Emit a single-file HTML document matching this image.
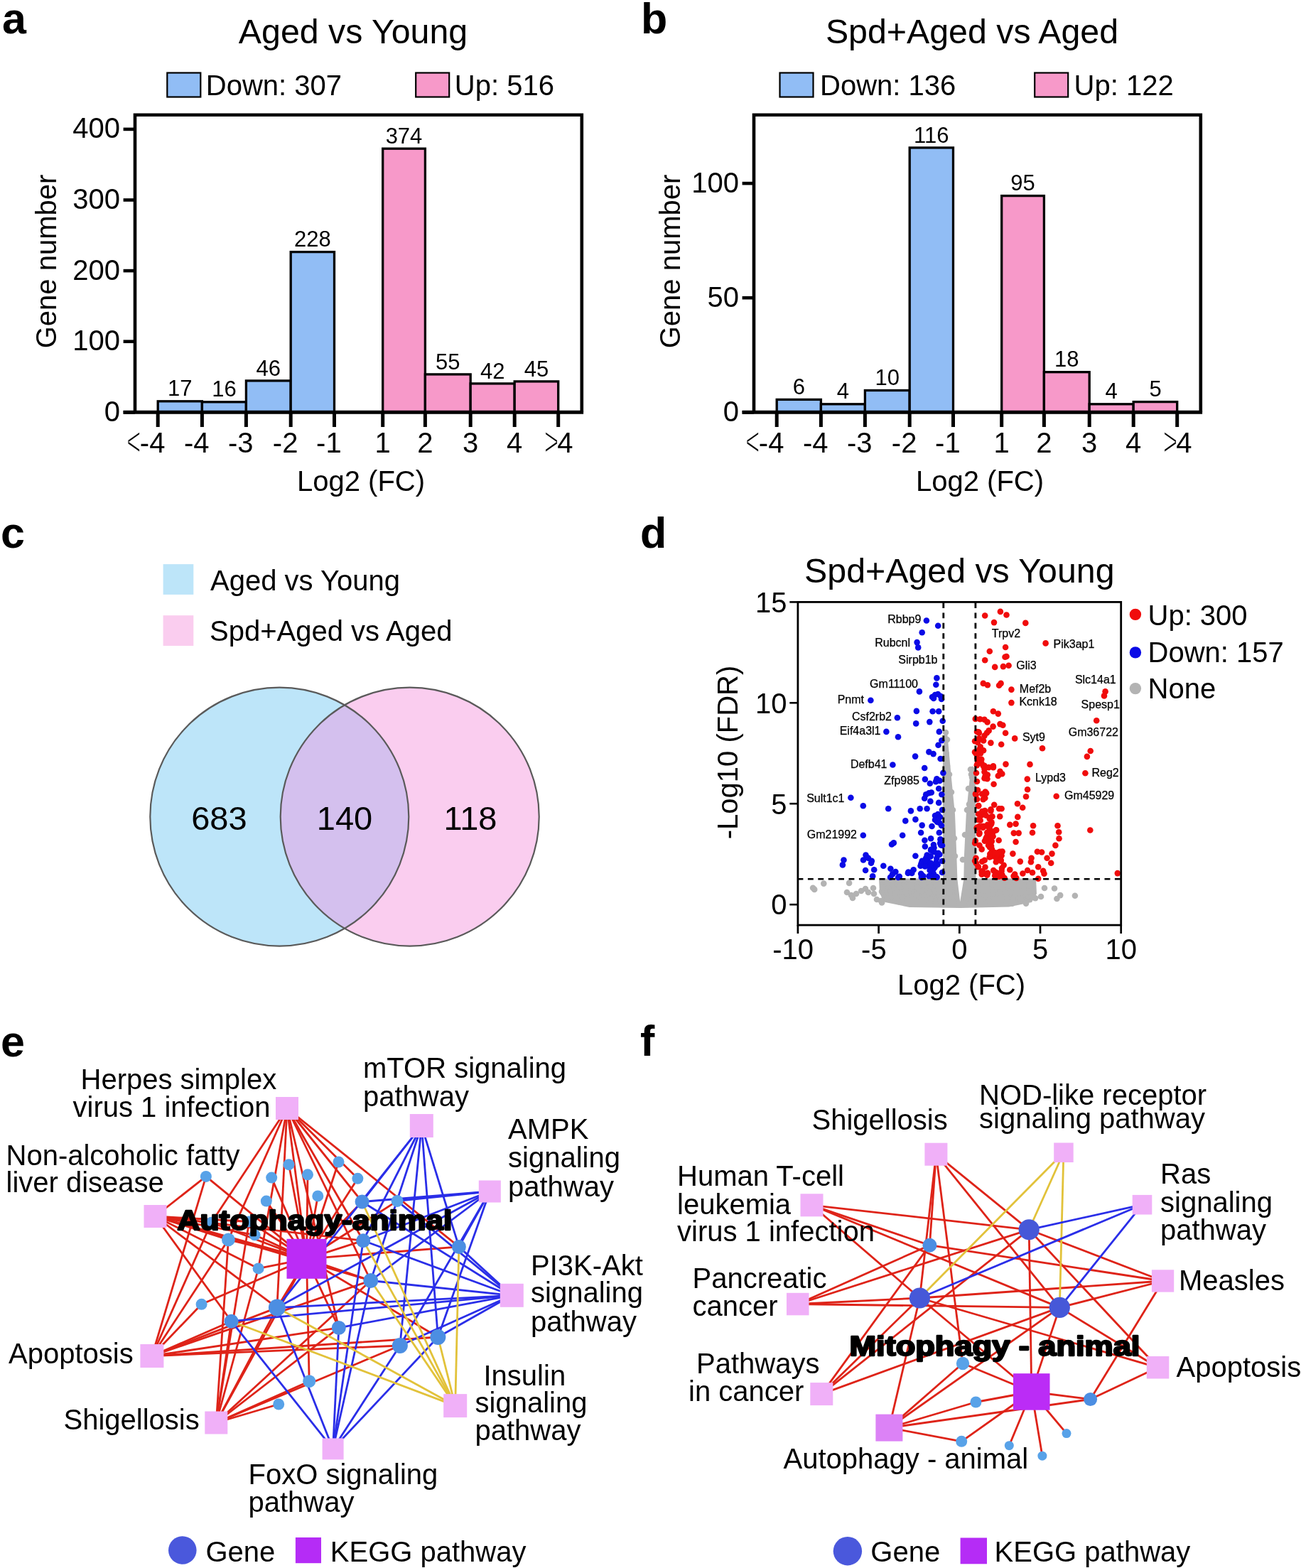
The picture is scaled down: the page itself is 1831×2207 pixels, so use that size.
<!DOCTYPE html>
<html><head><meta charset="utf-8"><title>Figure</title>
<style>
html,body{margin:0;padding:0;background:#fff;}
svg{display:block;}
text{font-family:"Liberation Sans",Arial,sans-serif;fill:#000;}
</style></head>
<body>
<svg width="1831" height="2207" viewBox="0 0 1831 2207">
<rect x="0" y="0" width="1831" height="2207" fill="#fff"/>
<text x="3.0" y="47.0" font-size="61" text-anchor="start" font-weight="bold" >a</text>
<text x="902.0" y="47.0" font-size="61" text-anchor="start" font-weight="bold" >b</text>
<text x="1.0" y="771.0" font-size="61" text-anchor="start" font-weight="bold" >c</text>
<text x="901.0" y="771.0" font-size="61" text-anchor="start" font-weight="bold" >d</text>
<text x="1.0" y="1487.0" font-size="61" text-anchor="start" font-weight="bold" >e</text>
<text x="901.0" y="1486.0" font-size="61" text-anchor="start" font-weight="bold" >f</text>
<text x="497.0" y="60.5" font-size="48.3" text-anchor="middle" >Aged vs Young</text>
<rect x="235.3" y="102.5" width="47.0" height="34.0" fill="#91bdf5" stroke="#000" stroke-width="2.2" />
<text x="289.8" y="133.8" font-size="40" text-anchor="start" >Down: 307</text>
<rect x="585.2" y="102.5" width="47.0" height="34.0" fill="#f799c9" stroke="#000" stroke-width="2.2" />
<text x="639.8" y="133.8" font-size="40" text-anchor="start" >Up: 516</text>
<rect x="222.2" y="564.8" width="62.2" height="15.5" fill="#91bdf5" stroke="#000" stroke-width="3.3"/>
<text x="253.3" y="557.4" font-size="31" text-anchor="middle" >17</text>
<rect x="284.4" y="565.8" width="62.0" height="14.5" fill="#91bdf5" stroke="#000" stroke-width="3.3"/>
<text x="315.4" y="558.4" font-size="31" text-anchor="middle" >16</text>
<rect x="346.4" y="535.9" width="62.8" height="44.4" fill="#91bdf5" stroke="#000" stroke-width="3.3"/>
<text x="377.8" y="528.5" font-size="31" text-anchor="middle" >46</text>
<rect x="409.2" y="354.6" width="61.3" height="225.7" fill="#91bdf5" stroke="#000" stroke-width="3.3"/>
<text x="439.9" y="347.2" font-size="31" text-anchor="middle" >228</text>
<rect x="538.7" y="209.2" width="59.7" height="371.1" fill="#f799c9" stroke="#000" stroke-width="3.3"/>
<text x="568.5" y="201.8" font-size="31" text-anchor="middle" >374</text>
<rect x="598.4" y="526.9" width="63.8" height="53.4" fill="#f799c9" stroke="#000" stroke-width="3.3"/>
<text x="630.3" y="519.5" font-size="31" text-anchor="middle" >55</text>
<rect x="662.2" y="539.9" width="62.0" height="40.4" fill="#f799c9" stroke="#000" stroke-width="3.3"/>
<text x="693.2" y="532.5" font-size="31" text-anchor="middle" >42</text>
<rect x="724.2" y="536.9" width="61.5" height="43.4" fill="#f799c9" stroke="#000" stroke-width="3.3"/>
<text x="755.0" y="529.5" font-size="31" text-anchor="middle" >45</text>
<path d="M190.0,580.3 V161.7 H818.8 V580.3" fill="none" stroke="#000" stroke-width="4.6" stroke-linejoin="miter"/>
<line x1="173.6" y1="580.3" x2="821.1" y2="580.3" stroke="#000" stroke-width="5" />
<line x1="173.6" y1="580.3" x2="190.0" y2="580.3" stroke="#000" stroke-width="4.6" />
<text x="169.0" y="592.7" font-size="40" text-anchor="end" >0</text>
<line x1="173.6" y1="480.7" x2="190.0" y2="480.7" stroke="#000" stroke-width="4.6" />
<text x="169.0" y="493.1" font-size="40" text-anchor="end" >100</text>
<line x1="173.6" y1="381.1" x2="190.0" y2="381.1" stroke="#000" stroke-width="4.6" />
<text x="169.0" y="393.5" font-size="40" text-anchor="end" >200</text>
<line x1="173.6" y1="281.5" x2="190.0" y2="281.5" stroke="#000" stroke-width="4.6" />
<text x="169.0" y="293.9" font-size="40" text-anchor="end" >300</text>
<line x1="173.6" y1="181.9" x2="190.0" y2="181.9" stroke="#000" stroke-width="4.6" />
<text x="169.0" y="194.3" font-size="40" text-anchor="end" >400</text>
<line x1="222.2" y1="580.3" x2="222.2" y2="601.0" stroke="#000" stroke-width="5" />
<text x="232.4" y="637.0" font-size="40" text-anchor="end" >-4</text>
<text x="0.0" y="0.0" font-size="40" text-anchor="start" transform="translate(178.2,641.3) scale(0.86,1.45)" stroke="#fff" stroke-width="1.1">&lt;</text>
<line x1="284.4" y1="580.3" x2="284.4" y2="601.0" stroke="#000" stroke-width="5" />
<text x="294.6" y="637.0" font-size="40" text-anchor="end" >-4</text>
<line x1="346.4" y1="580.3" x2="346.4" y2="601.0" stroke="#000" stroke-width="5" />
<text x="356.6" y="637.0" font-size="40" text-anchor="end" >-3</text>
<line x1="409.2" y1="580.3" x2="409.2" y2="601.0" stroke="#000" stroke-width="5" />
<text x="419.4" y="637.0" font-size="40" text-anchor="end" >-2</text>
<line x1="470.5" y1="580.3" x2="470.5" y2="601.0" stroke="#000" stroke-width="5" />
<text x="480.7" y="637.0" font-size="40" text-anchor="end" >-1</text>
<line x1="538.7" y1="580.3" x2="538.7" y2="601.0" stroke="#000" stroke-width="5" />
<text x="538.7" y="637.0" font-size="40" text-anchor="middle" >1</text>
<line x1="598.4" y1="580.3" x2="598.4" y2="601.0" stroke="#000" stroke-width="5" />
<text x="598.4" y="637.0" font-size="40" text-anchor="middle" >2</text>
<line x1="662.2" y1="580.3" x2="662.2" y2="601.0" stroke="#000" stroke-width="5" />
<text x="662.2" y="637.0" font-size="40" text-anchor="middle" >3</text>
<line x1="724.2" y1="580.3" x2="724.2" y2="601.0" stroke="#000" stroke-width="5" />
<text x="724.2" y="637.0" font-size="40" text-anchor="middle" >4</text>
<line x1="785.7" y1="580.3" x2="785.7" y2="601.0" stroke="#000" stroke-width="5" />
<text x="784.2" y="637.0" font-size="40" text-anchor="start" >4</text>
<text x="0.0" y="0.0" font-size="40" text-anchor="start" transform="translate(766.1,641.3) scale(0.86,1.45)" stroke="#fff" stroke-width="1.1">&gt;</text>
<text x="508.0" y="691.4" font-size="40" text-anchor="middle" >Log2 (FC)</text>
<text x="0.0" y="0.0" font-size="40" text-anchor="middle" transform="translate(78.8,368) rotate(-90)">Gene number</text>
<text x="1368.0" y="60.5" font-size="48.3" text-anchor="middle" >Spd+Aged vs Aged</text>
<rect x="1097.5" y="102.5" width="47.0" height="34.0" fill="#91bdf5" stroke="#000" stroke-width="2.2" />
<text x="1154.0" y="133.8" font-size="40" text-anchor="start" >Down: 136</text>
<rect x="1456.2" y="102.5" width="47.0" height="34.0" fill="#f799c9" stroke="#000" stroke-width="2.2" />
<text x="1511.6" y="133.8" font-size="40" text-anchor="start" >Up: 122</text>
<rect x="1093.2" y="562.4" width="62.2" height="17.9" fill="#91bdf5" stroke="#000" stroke-width="3.3"/>
<text x="1124.3" y="555.0" font-size="31" text-anchor="middle" >6</text>
<rect x="1155.4" y="568.8" width="62.0" height="11.5" fill="#91bdf5" stroke="#000" stroke-width="3.3"/>
<text x="1186.4" y="561.4" font-size="31" text-anchor="middle" >4</text>
<rect x="1217.4" y="549.5" width="62.8" height="30.8" fill="#91bdf5" stroke="#000" stroke-width="3.3"/>
<text x="1248.8" y="542.1" font-size="31" text-anchor="middle" >10</text>
<rect x="1280.2" y="207.9" width="61.3" height="372.4" fill="#91bdf5" stroke="#000" stroke-width="3.3"/>
<text x="1310.8" y="200.5" font-size="31" text-anchor="middle" >116</text>
<rect x="1409.7" y="275.6" width="59.7" height="304.7" fill="#f799c9" stroke="#000" stroke-width="3.3"/>
<text x="1439.6" y="268.2" font-size="31" text-anchor="middle" >95</text>
<rect x="1469.4" y="523.7" width="63.8" height="56.6" fill="#f799c9" stroke="#000" stroke-width="3.3"/>
<text x="1501.3" y="516.3" font-size="31" text-anchor="middle" >18</text>
<rect x="1533.2" y="568.8" width="62.0" height="11.5" fill="#f799c9" stroke="#000" stroke-width="3.3"/>
<text x="1564.2" y="561.4" font-size="31" text-anchor="middle" >4</text>
<rect x="1595.2" y="565.6" width="61.5" height="14.7" fill="#f799c9" stroke="#000" stroke-width="3.3"/>
<text x="1626.0" y="558.2" font-size="31" text-anchor="middle" >5</text>
<path d="M1061.0,580.3 V161.7 H1689.8 V580.3" fill="none" stroke="#000" stroke-width="4.6" stroke-linejoin="miter"/>
<line x1="1044.6" y1="580.3" x2="1692.1" y2="580.3" stroke="#000" stroke-width="5" />
<line x1="1044.6" y1="580.3" x2="1061.0" y2="580.3" stroke="#000" stroke-width="4.6" />
<text x="1040.0" y="592.7" font-size="40" text-anchor="end" >0</text>
<line x1="1044.6" y1="419.2" x2="1061.0" y2="419.2" stroke="#000" stroke-width="4.6" />
<text x="1040.0" y="431.6" font-size="40" text-anchor="end" >50</text>
<line x1="1044.6" y1="258.1" x2="1061.0" y2="258.1" stroke="#000" stroke-width="4.6" />
<text x="1040.0" y="270.5" font-size="40" text-anchor="end" >100</text>
<line x1="1093.2" y1="580.3" x2="1093.2" y2="601.0" stroke="#000" stroke-width="5" />
<text x="1103.4" y="637.0" font-size="40" text-anchor="end" >-4</text>
<text x="0.0" y="0.0" font-size="40" text-anchor="start" transform="translate(1049.2,641.3) scale(0.86,1.45)" stroke="#fff" stroke-width="1.1">&lt;</text>
<line x1="1155.4" y1="580.3" x2="1155.4" y2="601.0" stroke="#000" stroke-width="5" />
<text x="1165.6" y="637.0" font-size="40" text-anchor="end" >-4</text>
<line x1="1217.4" y1="580.3" x2="1217.4" y2="601.0" stroke="#000" stroke-width="5" />
<text x="1227.6" y="637.0" font-size="40" text-anchor="end" >-3</text>
<line x1="1280.2" y1="580.3" x2="1280.2" y2="601.0" stroke="#000" stroke-width="5" />
<text x="1290.4" y="637.0" font-size="40" text-anchor="end" >-2</text>
<line x1="1341.5" y1="580.3" x2="1341.5" y2="601.0" stroke="#000" stroke-width="5" />
<text x="1351.7" y="637.0" font-size="40" text-anchor="end" >-1</text>
<line x1="1409.7" y1="580.3" x2="1409.7" y2="601.0" stroke="#000" stroke-width="5" />
<text x="1409.7" y="637.0" font-size="40" text-anchor="middle" >1</text>
<line x1="1469.4" y1="580.3" x2="1469.4" y2="601.0" stroke="#000" stroke-width="5" />
<text x="1469.4" y="637.0" font-size="40" text-anchor="middle" >2</text>
<line x1="1533.2" y1="580.3" x2="1533.2" y2="601.0" stroke="#000" stroke-width="5" />
<text x="1533.2" y="637.0" font-size="40" text-anchor="middle" >3</text>
<line x1="1595.2" y1="580.3" x2="1595.2" y2="601.0" stroke="#000" stroke-width="5" />
<text x="1595.2" y="637.0" font-size="40" text-anchor="middle" >4</text>
<line x1="1656.7" y1="580.3" x2="1656.7" y2="601.0" stroke="#000" stroke-width="5" />
<text x="1655.2" y="637.0" font-size="40" text-anchor="start" >4</text>
<text x="0.0" y="0.0" font-size="40" text-anchor="start" transform="translate(1637.1,641.3) scale(0.86,1.45)" stroke="#fff" stroke-width="1.1">&gt;</text>
<text x="1379.0" y="691.4" font-size="40" text-anchor="middle" >Log2 (FC)</text>
<text x="0.0" y="0.0" font-size="40" text-anchor="middle" transform="translate(957.3,368) rotate(-90)">Gene number</text>
<rect x="229.6" y="794.1" width="42.7" height="42.8" fill="#bde5f9" />
<rect x="229.6" y="866.2" width="42.7" height="42.8" fill="#facdef" />
<text x="296.0" y="830.9" font-size="40" text-anchor="start" >Aged vs Young</text>
<text x="295.0" y="902.0" font-size="40" text-anchor="start" >Spd+Aged vs Aged</text>
<circle cx="393.3" cy="1149.6" r="182" fill="#bde5f9"/>
<circle cx="576.7" cy="1149.6" r="182" fill="#facdef"/>
<clipPath id="cl"><circle cx="393.3" cy="1149.6" r="182"/></clipPath>
<circle cx="576.7" cy="1149.6" r="182" fill="#d4c0ee" clip-path="url(#cl)"/>
<circle cx="393.3" cy="1149.6" r="182" fill="none" stroke="#5a5a5a" stroke-width="2.2"/>
<circle cx="576.7" cy="1149.6" r="182" fill="none" stroke="#5a5a5a" stroke-width="2.2"/>
<text x="308.4" y="1167.5" font-size="47" text-anchor="middle" >683</text>
<text x="485.0" y="1167.5" font-size="47" text-anchor="middle" >140</text>
<text x="662.0" y="1167.5" font-size="47" text-anchor="middle" >118</text>
<text x="1350.3" y="820.1" font-size="48.3" text-anchor="middle" >Spd+Aged vs Young</text>
<path d="M1237,1236.5 L1327,1236.5 L1327,1062 L1329.5,1028 L1333,1030 L1338.3,1088 L1344,1146 L1346.3,1203 L1347.4,1237.6 L1351.2,1269 L1356.3,1237.6 L1357,1203 L1359.8,1146 L1365.5,1088 L1368,1078 L1373,1082 L1373.5,1236.5 L1458,1236.5 L1459,1258 L1452,1270 L1420,1276.5 L1352,1278 L1280,1277 L1246,1270 L1238,1258 Z" fill="#b3b3b3"/>
<circle cx="1307.9" cy="1244.8" r="4.3" fill="#b3b3b3" />
<circle cx="1380.5" cy="1242.3" r="4.3" fill="#b3b3b3" />
<circle cx="1248.9" cy="1256.2" r="4.3" fill="#b3b3b3" />
<circle cx="1244.3" cy="1253.9" r="4.3" fill="#b3b3b3" />
<circle cx="1251.5" cy="1242.9" r="4.3" fill="#b3b3b3" />
<circle cx="1330.2" cy="1266.5" r="4.3" fill="#b3b3b3" />
<circle cx="1263.5" cy="1247.1" r="4.3" fill="#b3b3b3" />
<circle cx="1375.3" cy="1270.3" r="4.3" fill="#b3b3b3" />
<circle cx="1364.1" cy="1252.7" r="4.3" fill="#b3b3b3" />
<circle cx="1452.7" cy="1241.5" r="4.3" fill="#b3b3b3" />
<circle cx="1426.6" cy="1249.3" r="4.3" fill="#b3b3b3" />
<circle cx="1268.0" cy="1243.8" r="4.3" fill="#b3b3b3" />
<circle cx="1304.5" cy="1266.1" r="4.3" fill="#b3b3b3" />
<circle cx="1276.1" cy="1258.6" r="4.3" fill="#b3b3b3" />
<circle cx="1377.8" cy="1251.9" r="4.3" fill="#b3b3b3" />
<circle cx="1249.2" cy="1246.6" r="4.3" fill="#b3b3b3" />
<circle cx="1387.0" cy="1253.7" r="4.3" fill="#b3b3b3" />
<circle cx="1305.7" cy="1258.7" r="4.3" fill="#b3b3b3" />
<circle cx="1336.6" cy="1249.6" r="4.3" fill="#b3b3b3" />
<circle cx="1412.4" cy="1262.4" r="4.3" fill="#b3b3b3" />
<circle cx="1290.2" cy="1258.4" r="4.3" fill="#b3b3b3" />
<circle cx="1397.9" cy="1249.2" r="4.3" fill="#b3b3b3" />
<circle cx="1453.6" cy="1243.8" r="4.3" fill="#b3b3b3" />
<circle cx="1328.8" cy="1264.2" r="4.3" fill="#b3b3b3" />
<circle cx="1269.7" cy="1255.6" r="4.3" fill="#b3b3b3" />
<circle cx="1244.7" cy="1261.4" r="4.3" fill="#b3b3b3" />
<circle cx="1405.7" cy="1258.3" r="4.3" fill="#b3b3b3" />
<circle cx="1430.4" cy="1250.0" r="4.3" fill="#b3b3b3" />
<circle cx="1390.4" cy="1259.0" r="4.3" fill="#b3b3b3" />
<circle cx="1364.7" cy="1254.6" r="4.3" fill="#b3b3b3" />
<circle cx="1422.5" cy="1270.2" r="4.3" fill="#b3b3b3" />
<circle cx="1341.2" cy="1261.3" r="4.3" fill="#b3b3b3" />
<circle cx="1249.5" cy="1262.4" r="4.3" fill="#b3b3b3" />
<circle cx="1379.7" cy="1271.8" r="4.3" fill="#b3b3b3" />
<circle cx="1418.5" cy="1249.1" r="4.3" fill="#b3b3b3" />
<circle cx="1321.6" cy="1261.4" r="4.3" fill="#b3b3b3" />
<circle cx="1241.0" cy="1254.8" r="4.3" fill="#b3b3b3" />
<circle cx="1273.3" cy="1243.7" r="4.3" fill="#b3b3b3" />
<circle cx="1249.1" cy="1264.6" r="4.3" fill="#b3b3b3" />
<circle cx="1264.7" cy="1247.9" r="4.3" fill="#b3b3b3" />
<circle cx="1322.8" cy="1267.9" r="4.3" fill="#b3b3b3" />
<circle cx="1253.9" cy="1254.4" r="4.3" fill="#b3b3b3" />
<circle cx="1358.0" cy="1268.3" r="4.3" fill="#b3b3b3" />
<circle cx="1417.9" cy="1267.6" r="4.3" fill="#b3b3b3" />
<circle cx="1297.8" cy="1253.3" r="4.3" fill="#b3b3b3" />
<circle cx="1315.6" cy="1268.3" r="4.3" fill="#b3b3b3" />
<circle cx="1448.6" cy="1244.8" r="4.3" fill="#b3b3b3" />
<circle cx="1275.1" cy="1247.4" r="4.3" fill="#b3b3b3" />
<circle cx="1287.8" cy="1255.5" r="4.3" fill="#b3b3b3" />
<circle cx="1366.8" cy="1248.4" r="4.3" fill="#b3b3b3" />
<circle cx="1318.0" cy="1258.1" r="4.3" fill="#b3b3b3" />
<circle cx="1447.6" cy="1262.1" r="4.3" fill="#b3b3b3" />
<circle cx="1386.1" cy="1241.7" r="4.3" fill="#b3b3b3" />
<circle cx="1435.7" cy="1265.0" r="4.3" fill="#b3b3b3" />
<circle cx="1430.1" cy="1265.5" r="4.3" fill="#b3b3b3" />
<circle cx="1323.1" cy="1252.8" r="4.3" fill="#b3b3b3" />
<circle cx="1259.0" cy="1260.3" r="4.3" fill="#b3b3b3" />
<circle cx="1249.8" cy="1242.2" r="4.3" fill="#b3b3b3" />
<circle cx="1282.3" cy="1245.2" r="4.3" fill="#b3b3b3" />
<circle cx="1311.5" cy="1241.7" r="4.3" fill="#b3b3b3" />
<circle cx="1258.5" cy="1251.6" r="4.3" fill="#b3b3b3" />
<circle cx="1241.7" cy="1268.0" r="4.3" fill="#b3b3b3" />
<circle cx="1372.3" cy="1244.8" r="4.3" fill="#b3b3b3" />
<circle cx="1292.0" cy="1251.1" r="4.3" fill="#b3b3b3" />
<circle cx="1316.8" cy="1243.9" r="4.3" fill="#b3b3b3" />
<circle cx="1424.5" cy="1271.8" r="4.3" fill="#b3b3b3" />
<circle cx="1339.4" cy="1255.5" r="4.3" fill="#b3b3b3" />
<circle cx="1255.1" cy="1243.3" r="4.3" fill="#b3b3b3" />
<circle cx="1312.1" cy="1248.5" r="4.3" fill="#b3b3b3" />
<circle cx="1420.0" cy="1245.2" r="4.3" fill="#b3b3b3" />
<circle cx="1241.1" cy="1270.4" r="4.3" fill="#b3b3b3" />
<circle cx="1427.7" cy="1262.3" r="4.3" fill="#b3b3b3" />
<circle cx="1294.0" cy="1251.7" r="4.3" fill="#b3b3b3" />
<circle cx="1273.1" cy="1264.7" r="4.3" fill="#b3b3b3" />
<circle cx="1309.2" cy="1247.1" r="4.3" fill="#b3b3b3" />
<circle cx="1416.2" cy="1271.5" r="4.3" fill="#b3b3b3" />
<circle cx="1425.3" cy="1265.8" r="4.3" fill="#b3b3b3" />
<circle cx="1417.7" cy="1263.7" r="4.3" fill="#b3b3b3" />
<circle cx="1286.3" cy="1256.6" r="4.3" fill="#b3b3b3" />
<circle cx="1314.9" cy="1240.9" r="4.3" fill="#b3b3b3" />
<circle cx="1242.2" cy="1248.9" r="4.3" fill="#b3b3b3" />
<circle cx="1293.5" cy="1262.2" r="4.3" fill="#b3b3b3" />
<circle cx="1448.3" cy="1254.3" r="4.3" fill="#b3b3b3" />
<circle cx="1444.0" cy="1271.6" r="4.3" fill="#b3b3b3" />
<circle cx="1448.0" cy="1251.7" r="4.3" fill="#b3b3b3" />
<circle cx="1284.9" cy="1247.3" r="4.3" fill="#b3b3b3" />
<circle cx="1279.7" cy="1246.5" r="4.3" fill="#b3b3b3" />
<circle cx="1374.5" cy="1268.8" r="4.3" fill="#b3b3b3" />
<circle cx="1422.6" cy="1255.3" r="4.3" fill="#b3b3b3" />
<circle cx="1381.0" cy="1265.6" r="4.3" fill="#b3b3b3" />
<circle cx="1254.8" cy="1261.1" r="4.3" fill="#b3b3b3" />
<circle cx="1438.0" cy="1265.0" r="4.3" fill="#b3b3b3" />
<circle cx="1402.5" cy="1255.3" r="4.3" fill="#b3b3b3" />
<circle cx="1275.6" cy="1265.3" r="4.3" fill="#b3b3b3" />
<circle cx="1309.8" cy="1265.6" r="4.3" fill="#b3b3b3" />
<circle cx="1451.7" cy="1252.7" r="4.3" fill="#b3b3b3" />
<circle cx="1325.1" cy="1270.3" r="4.3" fill="#b3b3b3" />
<circle cx="1396.9" cy="1245.4" r="4.3" fill="#b3b3b3" />
<circle cx="1264.2" cy="1244.8" r="4.3" fill="#b3b3b3" />
<circle cx="1436.9" cy="1265.8" r="4.3" fill="#b3b3b3" />
<circle cx="1268.5" cy="1266.4" r="4.3" fill="#b3b3b3" />
<circle cx="1453.6" cy="1261.0" r="4.3" fill="#b3b3b3" />
<circle cx="1313.8" cy="1257.6" r="4.3" fill="#b3b3b3" />
<circle cx="1265.1" cy="1240.5" r="4.3" fill="#b3b3b3" />
<circle cx="1451.5" cy="1260.8" r="4.3" fill="#b3b3b3" />
<circle cx="1332.3" cy="1267.9" r="4.3" fill="#b3b3b3" />
<circle cx="1419.4" cy="1246.8" r="4.3" fill="#b3b3b3" />
<circle cx="1291.9" cy="1249.4" r="4.3" fill="#b3b3b3" />
<circle cx="1289.4" cy="1258.8" r="4.3" fill="#b3b3b3" />
<circle cx="1293.6" cy="1253.4" r="4.3" fill="#b3b3b3" />
<circle cx="1265.1" cy="1269.1" r="4.3" fill="#b3b3b3" />
<circle cx="1314.5" cy="1254.7" r="4.3" fill="#b3b3b3" />
<circle cx="1365.5" cy="1268.9" r="4.3" fill="#b3b3b3" />
<circle cx="1329.4" cy="1269.4" r="4.3" fill="#b3b3b3" />
<circle cx="1333.7" cy="1245.9" r="4.3" fill="#b3b3b3" />
<circle cx="1274.3" cy="1255.2" r="4.3" fill="#b3b3b3" />
<circle cx="1397.0" cy="1257.8" r="4.3" fill="#b3b3b3" />
<circle cx="1308.4" cy="1256.6" r="4.3" fill="#b3b3b3" />
<circle cx="1359.3" cy="1265.1" r="4.3" fill="#b3b3b3" />
<circle cx="1259.6" cy="1257.9" r="4.3" fill="#b3b3b3" />
<circle cx="1291.2" cy="1248.9" r="4.3" fill="#b3b3b3" />
<circle cx="1407.4" cy="1256.2" r="4.3" fill="#b3b3b3" />
<circle cx="1360.7" cy="1264.3" r="4.3" fill="#b3b3b3" />
<circle cx="1438.6" cy="1254.2" r="4.3" fill="#b3b3b3" />
<circle cx="1372.0" cy="1256.2" r="4.3" fill="#b3b3b3" />
<circle cx="1336.4" cy="1257.1" r="4.3" fill="#b3b3b3" />
<circle cx="1342.1" cy="1270.1" r="4.3" fill="#b3b3b3" />
<circle cx="1391.2" cy="1268.0" r="4.3" fill="#b3b3b3" />
<circle cx="1144.1" cy="1249.8" r="4.3" fill="#b3b3b3" />
<circle cx="1146.2" cy="1251.9" r="4.3" fill="#b3b3b3" />
<circle cx="1159.3" cy="1243.6" r="4.3" fill="#b3b3b3" />
<circle cx="1195.1" cy="1242.9" r="4.3" fill="#b3b3b3" />
<circle cx="1192.0" cy="1256.0" r="4.3" fill="#b3b3b3" />
<circle cx="1198.0" cy="1260.0" r="4.3" fill="#b3b3b3" />
<circle cx="1205.0" cy="1258.0" r="4.3" fill="#b3b3b3" />
<circle cx="1212.0" cy="1254.0" r="4.3" fill="#b3b3b3" />
<circle cx="1218.0" cy="1251.0" r="4.3" fill="#b3b3b3" />
<circle cx="1222.0" cy="1256.0" r="4.3" fill="#b3b3b3" />
<circle cx="1200.0" cy="1264.0" r="4.3" fill="#b3b3b3" />
<circle cx="1229.0" cy="1250.0" r="4.3" fill="#b3b3b3" />
<circle cx="1230.0" cy="1258.0" r="4.3" fill="#b3b3b3" />
<circle cx="1234.0" cy="1266.0" r="4.3" fill="#b3b3b3" />
<circle cx="1240.0" cy="1268.0" r="4.3" fill="#b3b3b3" />
<circle cx="1484.0" cy="1250.5" r="4.3" fill="#b3b3b3" />
<circle cx="1457.1" cy="1264.3" r="4.3" fill="#b3b3b3" />
<circle cx="1492.2" cy="1260.1" r="4.3" fill="#b3b3b3" />
<circle cx="1487.4" cy="1265.0" r="4.3" fill="#b3b3b3" />
<circle cx="1512.9" cy="1260.8" r="4.3" fill="#b3b3b3" />
<circle cx="1465.0" cy="1262.0" r="4.3" fill="#b3b3b3" />
<circle cx="1470.0" cy="1250.0" r="4.3" fill="#b3b3b3" />
<circle cx="1331.0" cy="1031.0" r="4.3" fill="#b3b3b3" />
<circle cx="1333.0" cy="1041.0" r="4.3" fill="#b3b3b3" />
<circle cx="1331.5" cy="1060.0" r="4.3" fill="#b3b3b3" />
<circle cx="1333.0" cy="1078.0" r="4.3" fill="#b3b3b3" />
<circle cx="1366.0" cy="1083.0" r="4.3" fill="#b3b3b3" />
<circle cx="1368.0" cy="1094.0" r="4.3" fill="#b3b3b3" />
<circle cx="1367.0" cy="1110.0" r="4.3" fill="#b3b3b3" />
<circle cx="1364.0" cy="1132.0" r="4.3" fill="#b3b3b3" />
<circle cx="1336.0" cy="1090.0" r="4.3" fill="#b3b3b3" />
<circle cx="1339.0" cy="1115.0" r="4.3" fill="#b3b3b3" />
<circle cx="1341.0" cy="1140.0" r="4.3" fill="#b3b3b3" />
<circle cx="1363.0" cy="1110.0" r="4.3" fill="#b3b3b3" />
<circle cx="1361.0" cy="1140.0" r="4.3" fill="#b3b3b3" />
<circle cx="1343.0" cy="1180.0" r="4.3" fill="#b3b3b3" />
<circle cx="1344.0" cy="1205.0" r="4.3" fill="#b3b3b3" />
<circle cx="1358.0" cy="1175.0" r="4.3" fill="#b3b3b3" />
<circle cx="1355.0" cy="1210.0" r="4.3" fill="#b3b3b3" />
<circle cx="1367.0" cy="1090.0" r="4.3" fill="#b3b3b3" />
<circle cx="1303.9" cy="873.5" r="4.3" fill="#0a0ae6" />
<circle cx="1320.2" cy="880.8" r="4.3" fill="#0a0ae6" />
<circle cx="1297.7" cy="890.3" r="4.3" fill="#0a0ae6" />
<circle cx="1290.6" cy="904.1" r="4.3" fill="#0a0ae6" />
<circle cx="1292.2" cy="911.4" r="4.3" fill="#0a0ae6" />
<circle cx="1318.4" cy="954.4" r="4.3" fill="#0a0ae6" />
<circle cx="1317.3" cy="963.7" r="4.3" fill="#0a0ae6" />
<circle cx="1293.9" cy="973.4" r="4.3" fill="#0a0ae6" />
<circle cx="1312.0" cy="981.0" r="4.3" fill="#0a0ae6" />
<circle cx="1316.0" cy="978.0" r="4.3" fill="#0a0ae6" />
<circle cx="1320.0" cy="977.0" r="4.3" fill="#0a0ae6" />
<circle cx="1324.0" cy="980.0" r="4.3" fill="#0a0ae6" />
<circle cx="1325.0" cy="984.0" r="4.3" fill="#0a0ae6" />
<circle cx="1314.0" cy="983.0" r="4.3" fill="#0a0ae6" />
<circle cx="1225.4" cy="985.8" r="4.3" fill="#0a0ae6" />
<circle cx="1289.9" cy="1000.9" r="4.3" fill="#0a0ae6" />
<circle cx="1312.6" cy="1001.2" r="4.3" fill="#0a0ae6" />
<circle cx="1321.2" cy="1001.2" r="4.3" fill="#0a0ae6" />
<circle cx="1262.9" cy="1010.2" r="4.3" fill="#0a0ae6" />
<circle cx="1289.2" cy="1018.4" r="4.3" fill="#0a0ae6" />
<circle cx="1308.3" cy="1016.1" r="4.3" fill="#0a0ae6" />
<circle cx="1326.7" cy="1014.7" r="4.3" fill="#0a0ae6" />
<circle cx="1247.4" cy="1029.9" r="4.3" fill="#0a0ae6" />
<circle cx="1264.0" cy="1037.3" r="4.3" fill="#0a0ae6" />
<circle cx="1321.8" cy="1029.9" r="4.3" fill="#0a0ae6" />
<circle cx="1325.3" cy="1042.3" r="4.3" fill="#0a0ae6" />
<circle cx="1320.5" cy="1048.7" r="4.3" fill="#0a0ae6" />
<circle cx="1307.4" cy="1058.4" r="4.3" fill="#0a0ae6" />
<circle cx="1313.6" cy="1061.1" r="4.3" fill="#0a0ae6" />
<circle cx="1288.1" cy="1064.6" r="4.3" fill="#0a0ae6" />
<circle cx="1323.6" cy="1068.0" r="4.3" fill="#0a0ae6" />
<circle cx="1256.4" cy="1076.5" r="4.3" fill="#0a0ae6" />
<circle cx="1301.2" cy="1081.0" r="4.3" fill="#0a0ae6" />
<circle cx="1327.4" cy="1087.9" r="4.3" fill="#0a0ae6" />
<circle cx="1301.9" cy="1096.9" r="4.3" fill="#0a0ae6" />
<circle cx="1308.8" cy="1102.8" r="4.3" fill="#0a0ae6" />
<circle cx="1318.4" cy="1096.2" r="4.3" fill="#0a0ae6" />
<circle cx="1322.5" cy="1098.9" r="4.3" fill="#0a0ae6" />
<circle cx="1317.0" cy="1100.3" r="4.3" fill="#0a0ae6" />
<circle cx="1321.2" cy="1110.0" r="4.3" fill="#0a0ae6" />
<circle cx="1307.4" cy="1116.2" r="4.3" fill="#0a0ae6" />
<circle cx="1310.8" cy="1115.5" r="4.3" fill="#0a0ae6" />
<circle cx="1303.2" cy="1118.2" r="4.3" fill="#0a0ae6" />
<circle cx="1325.3" cy="1118.2" r="4.3" fill="#0a0ae6" />
<circle cx="1301.2" cy="1123.7" r="4.3" fill="#0a0ae6" />
<circle cx="1309.4" cy="1127.9" r="4.3" fill="#0a0ae6" />
<circle cx="1321.2" cy="1129.9" r="4.3" fill="#0a0ae6" />
<circle cx="1197.4" cy="1122.8" r="4.3" fill="#0a0ae6" />
<circle cx="1214.8" cy="1134.3" r="4.3" fill="#0a0ae6" />
<circle cx="1250.2" cy="1138.2" r="4.3" fill="#0a0ae6" />
<circle cx="1281.9" cy="1141.4" r="4.3" fill="#0a0ae6" />
<circle cx="1294.7" cy="1138.2" r="4.3" fill="#0a0ae6" />
<circle cx="1304.6" cy="1138.2" r="4.3" fill="#0a0ae6" />
<circle cx="1316.0" cy="1148.0" r="4.3" fill="#0a0ae6" />
<circle cx="1320.0" cy="1146.0" r="4.3" fill="#0a0ae6" />
<circle cx="1323.0" cy="1150.0" r="4.3" fill="#0a0ae6" />
<circle cx="1316.0" cy="1154.0" r="4.3" fill="#0a0ae6" />
<circle cx="1319.0" cy="1157.0" r="4.3" fill="#0a0ae6" />
<circle cx="1322.0" cy="1158.0" r="4.3" fill="#0a0ae6" />
<circle cx="1274.3" cy="1155.4" r="4.3" fill="#0a0ae6" />
<circle cx="1288.4" cy="1153.4" r="4.3" fill="#0a0ae6" />
<circle cx="1297.7" cy="1161.6" r="4.3" fill="#0a0ae6" />
<circle cx="1311.5" cy="1163.0" r="4.3" fill="#0a0ae6" />
<circle cx="1296.1" cy="1172.0" r="4.3" fill="#0a0ae6" />
<circle cx="1321.8" cy="1172.0" r="4.3" fill="#0a0ae6" />
<circle cx="1214.8" cy="1175.8" r="4.3" fill="#0a0ae6" />
<circle cx="1270.2" cy="1175.8" r="4.3" fill="#0a0ae6" />
<circle cx="1255.0" cy="1188.5" r="4.3" fill="#0a0ae6" />
<circle cx="1257.8" cy="1186.4" r="4.3" fill="#0a0ae6" />
<circle cx="1310.1" cy="1180.2" r="4.3" fill="#0a0ae6" />
<circle cx="1301.9" cy="1191.5" r="4.3" fill="#0a0ae6" />
<circle cx="1288.4" cy="1204.7" r="4.3" fill="#0a0ae6" />
<circle cx="1310.1" cy="1196.8" r="4.3" fill="#0a0ae6" />
<circle cx="1306.0" cy="1205.0" r="4.3" fill="#0a0ae6" />
<circle cx="1303.2" cy="1207.8" r="4.3" fill="#0a0ae6" />
<circle cx="1187.5" cy="1210.5" r="4.3" fill="#0a0ae6" />
<circle cx="1185.9" cy="1217.4" r="4.3" fill="#0a0ae6" />
<circle cx="1218.5" cy="1203.6" r="4.3" fill="#0a0ae6" />
<circle cx="1215.0" cy="1210.5" r="4.3" fill="#0a0ae6" />
<circle cx="1222.0" cy="1207.8" r="4.3" fill="#0a0ae6" />
<circle cx="1226.8" cy="1211.9" r="4.3" fill="#0a0ae6" />
<circle cx="1226.0" cy="1214.7" r="4.3" fill="#0a0ae6" />
<circle cx="1218.1" cy="1225.0" r="4.3" fill="#0a0ae6" />
<circle cx="1230.2" cy="1224.3" r="4.3" fill="#0a0ae6" />
<circle cx="1243.3" cy="1218.8" r="4.3" fill="#0a0ae6" />
<circle cx="1228.2" cy="1233.3" r="4.3" fill="#0a0ae6" />
<circle cx="1253.4" cy="1222.7" r="4.3" fill="#0a0ae6" />
<circle cx="1326.0" cy="1140.0" r="4.3" fill="#0a0ae6" />
<circle cx="1325.0" cy="1162.0" r="4.3" fill="#0a0ae6" />
<circle cx="1326.0" cy="1190.0" r="4.3" fill="#0a0ae6" />
<circle cx="1326.0" cy="1212.0" r="4.3" fill="#0a0ae6" />
<circle cx="1326.0" cy="1228.0" r="4.3" fill="#0a0ae6" />
<circle cx="1324.3" cy="1189.5" r="4.3" fill="#0a0ae6" />
<circle cx="1319.7" cy="1203.8" r="4.3" fill="#0a0ae6" />
<circle cx="1323.1" cy="1186.9" r="4.3" fill="#0a0ae6" />
<circle cx="1314.5" cy="1193.3" r="4.3" fill="#0a0ae6" />
<circle cx="1313.9" cy="1189.1" r="4.3" fill="#0a0ae6" />
<circle cx="1313.9" cy="1198.1" r="4.3" fill="#0a0ae6" />
<circle cx="1322.4" cy="1202.8" r="4.3" fill="#0a0ae6" />
<circle cx="1314.9" cy="1199.0" r="4.3" fill="#0a0ae6" />
<circle cx="1260.4" cy="1227.1" r="4.3" fill="#0a0ae6" />
<circle cx="1264.1" cy="1235.0" r="4.3" fill="#0a0ae6" />
<circle cx="1253.1" cy="1234.8" r="4.3" fill="#0a0ae6" />
<circle cx="1256.1" cy="1230.4" r="4.3" fill="#0a0ae6" />
<circle cx="1265.8" cy="1233.7" r="4.3" fill="#0a0ae6" />
<circle cx="1277.9" cy="1228.9" r="4.3" fill="#0a0ae6" />
<circle cx="1282.8" cy="1227.8" r="4.3" fill="#0a0ae6" />
<circle cx="1278.4" cy="1227.6" r="4.3" fill="#0a0ae6" />
<circle cx="1285.7" cy="1224.2" r="4.3" fill="#0a0ae6" />
<circle cx="1283.3" cy="1229.0" r="4.3" fill="#0a0ae6" />
<circle cx="1295.5" cy="1218.7" r="4.3" fill="#0a0ae6" />
<circle cx="1313.7" cy="1223.2" r="4.3" fill="#0a0ae6" />
<circle cx="1296.9" cy="1234.9" r="4.3" fill="#0a0ae6" />
<circle cx="1318.7" cy="1234.6" r="4.3" fill="#0a0ae6" />
<circle cx="1298.1" cy="1217.1" r="4.3" fill="#0a0ae6" />
<circle cx="1296.2" cy="1229.8" r="4.3" fill="#0a0ae6" />
<circle cx="1303.1" cy="1213.7" r="4.3" fill="#0a0ae6" />
<circle cx="1307.7" cy="1233.1" r="4.3" fill="#0a0ae6" />
<circle cx="1319.6" cy="1216.9" r="4.3" fill="#0a0ae6" />
<circle cx="1299.5" cy="1233.3" r="4.3" fill="#0a0ae6" />
<circle cx="1312.1" cy="1227.9" r="4.3" fill="#0a0ae6" />
<circle cx="1297.7" cy="1211.9" r="4.3" fill="#0a0ae6" />
<circle cx="1315.6" cy="1221.0" r="4.3" fill="#0a0ae6" />
<circle cx="1297.2" cy="1233.8" r="4.3" fill="#0a0ae6" />
<circle cx="1314.0" cy="1230.4" r="4.3" fill="#0a0ae6" />
<circle cx="1297.5" cy="1231.7" r="4.3" fill="#0a0ae6" />
<circle cx="1297.0" cy="1231.9" r="4.3" fill="#0a0ae6" />
<circle cx="1308.6" cy="1218.9" r="4.3" fill="#0a0ae6" />
<circle cx="1311.6" cy="1233.5" r="4.3" fill="#0a0ae6" />
<circle cx="1303.0" cy="1213.7" r="4.3" fill="#0a0ae6" />
<circle cx="1310.8" cy="1216.4" r="4.3" fill="#0a0ae6" />
<circle cx="1298.3" cy="1214.5" r="4.3" fill="#0a0ae6" />
<circle cx="1296.5" cy="1215.5" r="4.3" fill="#0a0ae6" />
<circle cx="1304.4" cy="1218.1" r="4.3" fill="#0a0ae6" />
<circle cx="1317.8" cy="1217.7" r="4.3" fill="#0a0ae6" />
<circle cx="1310.0" cy="1214.9" r="4.3" fill="#0a0ae6" />
<circle cx="1305.4" cy="1211.0" r="4.3" fill="#0a0ae6" />
<circle cx="1302.5" cy="1210.9" r="4.3" fill="#0a0ae6" />
<circle cx="1318.3" cy="1208.1" r="4.3" fill="#0a0ae6" />
<circle cx="1304.7" cy="1203.5" r="4.3" fill="#0a0ae6" />
<circle cx="1323.4" cy="1181.4" r="4.3" fill="#0a0ae6" />
<circle cx="1320.5" cy="1200.9" r="4.3" fill="#0a0ae6" />
<circle cx="1312.4" cy="1225.1" r="4.3" fill="#0a0ae6" />
<circle cx="1309.8" cy="1205.4" r="4.3" fill="#0a0ae6" />
<circle cx="1317.2" cy="1233.9" r="4.3" fill="#0a0ae6" />
<circle cx="1308.6" cy="1224.9" r="4.3" fill="#0a0ae6" />
<circle cx="1317.7" cy="1213.2" r="4.3" fill="#0a0ae6" />
<circle cx="1310.1" cy="1195.9" r="4.3" fill="#0a0ae6" />
<circle cx="1301.4" cy="1182.8" r="4.3" fill="#0a0ae6" />
<circle cx="1301.8" cy="1219.5" r="4.3" fill="#0a0ae6" />
<circle cx="1386.2" cy="866.5" r="4.3" fill="#f00c0c" />
<circle cx="1407.9" cy="860.9" r="4.3" fill="#f00c0c" />
<circle cx="1416.5" cy="865.5" r="4.3" fill="#f00c0c" />
<circle cx="1399.0" cy="876.1" r="4.3" fill="#f00c0c" />
<circle cx="1443.3" cy="876.9" r="4.3" fill="#f00c0c" />
<circle cx="1471.6" cy="905.4" r="4.3" fill="#f00c0c" />
<circle cx="1415.1" cy="911.0" r="4.3" fill="#f00c0c" />
<circle cx="1392.8" cy="916.7" r="4.3" fill="#f00c0c" />
<circle cx="1416.5" cy="924.0" r="4.3" fill="#f00c0c" />
<circle cx="1414.5" cy="924.7" r="4.3" fill="#f00c0c" />
<circle cx="1386.2" cy="929.3" r="4.3" fill="#f00c0c" />
<circle cx="1400.2" cy="938.9" r="4.3" fill="#f00c0c" />
<circle cx="1411.9" cy="938.1" r="4.3" fill="#f00c0c" />
<circle cx="1419.6" cy="936.7" r="4.3" fill="#f00c0c" />
<circle cx="1383.8" cy="961.9" r="4.3" fill="#f00c0c" />
<circle cx="1389.9" cy="964.3" r="4.3" fill="#f00c0c" />
<circle cx="1408.6" cy="961.9" r="4.3" fill="#f00c0c" />
<circle cx="1406.1" cy="964.7" r="4.3" fill="#f00c0c" />
<circle cx="1423.4" cy="970.6" r="4.3" fill="#f00c0c" />
<circle cx="1423.4" cy="989.1" r="4.3" fill="#f00c0c" />
<circle cx="1555.6" cy="973.4" r="4.3" fill="#f00c0c" />
<circle cx="1554.0" cy="979.4" r="4.3" fill="#f00c0c" />
<circle cx="1397.9" cy="1001.2" r="4.3" fill="#f00c0c" />
<circle cx="1404.8" cy="1004.6" r="4.3" fill="#f00c0c" />
<circle cx="1379.3" cy="1012.2" r="4.3" fill="#f00c0c" />
<circle cx="1385.5" cy="1012.9" r="4.3" fill="#f00c0c" />
<circle cx="1389.6" cy="1016.4" r="4.3" fill="#f00c0c" />
<circle cx="1543.2" cy="1014.3" r="4.3" fill="#f00c0c" />
<circle cx="1397.6" cy="1022.6" r="4.3" fill="#f00c0c" />
<circle cx="1407.5" cy="1019.1" r="4.3" fill="#f00c0c" />
<circle cx="1411.4" cy="1020.8" r="4.3" fill="#f00c0c" />
<circle cx="1377.9" cy="1031.5" r="4.3" fill="#f00c0c" />
<circle cx="1388.9" cy="1031.5" r="4.3" fill="#f00c0c" />
<circle cx="1385.5" cy="1035.6" r="4.3" fill="#f00c0c" />
<circle cx="1415.1" cy="1031.8" r="4.3" fill="#f00c0c" />
<circle cx="1428.2" cy="1039.4" r="4.3" fill="#f00c0c" />
<circle cx="1384.1" cy="1042.5" r="4.3" fill="#f00c0c" />
<circle cx="1394.4" cy="1045.6" r="4.3" fill="#f00c0c" />
<circle cx="1409.2" cy="1047.8" r="4.3" fill="#f00c0c" />
<circle cx="1467.0" cy="1053.3" r="4.3" fill="#f00c0c" />
<circle cx="1534.7" cy="1057.0" r="4.3" fill="#f00c0c" />
<circle cx="1529.9" cy="1064.9" r="4.3" fill="#f00c0c" />
<circle cx="1384.1" cy="1056.3" r="4.3" fill="#f00c0c" />
<circle cx="1380.0" cy="1060.5" r="4.3" fill="#f00c0c" />
<circle cx="1381.3" cy="1068.7" r="4.3" fill="#f00c0c" />
<circle cx="1376.0" cy="1074.0" r="4.3" fill="#f00c0c" />
<circle cx="1415.5" cy="1075.6" r="4.3" fill="#f00c0c" />
<circle cx="1449.5" cy="1075.9" r="4.3" fill="#f00c0c" />
<circle cx="1385.5" cy="1077.7" r="4.3" fill="#f00c0c" />
<circle cx="1397.9" cy="1078.4" r="4.3" fill="#f00c0c" />
<circle cx="1397.9" cy="1080.3" r="4.3" fill="#f00c0c" />
<circle cx="1385.5" cy="1082.0" r="4.3" fill="#f00c0c" />
<circle cx="1385.5" cy="1086.5" r="4.3" fill="#f00c0c" />
<circle cx="1407.5" cy="1085.8" r="4.3" fill="#f00c0c" />
<circle cx="1410.3" cy="1089.3" r="4.3" fill="#f00c0c" />
<circle cx="1404.8" cy="1092.0" r="4.3" fill="#f00c0c" />
<circle cx="1385.5" cy="1095.5" r="4.3" fill="#f00c0c" />
<circle cx="1445.8" cy="1096.6" r="4.3" fill="#f00c0c" />
<circle cx="1527.4" cy="1088.2" r="4.3" fill="#f00c0c" />
<circle cx="1398.6" cy="1103.8" r="4.3" fill="#f00c0c" />
<circle cx="1446.1" cy="1111.3" r="4.3" fill="#f00c0c" />
<circle cx="1444.0" cy="1121.3" r="4.3" fill="#f00c0c" />
<circle cx="1486.7" cy="1120.7" r="4.3" fill="#f00c0c" />
<circle cx="1399.2" cy="1132.7" r="4.3" fill="#f00c0c" />
<circle cx="1406.1" cy="1138.2" r="4.3" fill="#f00c0c" />
<circle cx="1409.6" cy="1138.2" r="4.3" fill="#f00c0c" />
<circle cx="1432.0" cy="1131.3" r="4.3" fill="#f00c0c" />
<circle cx="1439.2" cy="1136.8" r="4.3" fill="#f00c0c" />
<circle cx="1396.5" cy="1149.2" r="4.3" fill="#f00c0c" />
<circle cx="1407.2" cy="1149.2" r="4.3" fill="#f00c0c" />
<circle cx="1432.3" cy="1149.9" r="4.3" fill="#f00c0c" />
<circle cx="1421.3" cy="1160.9" r="4.3" fill="#f00c0c" />
<circle cx="1429.6" cy="1159.6" r="4.3" fill="#f00c0c" />
<circle cx="1454.1" cy="1162.3" r="4.3" fill="#f00c0c" />
<circle cx="1453.0" cy="1172.0" r="4.3" fill="#f00c0c" />
<circle cx="1488.5" cy="1162.3" r="4.3" fill="#f00c0c" />
<circle cx="1490.2" cy="1171.3" r="4.3" fill="#f00c0c" />
<circle cx="1490.5" cy="1180.2" r="4.3" fill="#f00c0c" />
<circle cx="1534.3" cy="1168.5" r="4.3" fill="#f00c0c" />
<circle cx="1397.9" cy="1170.6" r="4.3" fill="#f00c0c" />
<circle cx="1426.8" cy="1172.6" r="4.3" fill="#f00c0c" />
<circle cx="1433.7" cy="1172.6" r="4.3" fill="#f00c0c" />
<circle cx="1429.6" cy="1185.0" r="4.3" fill="#f00c0c" />
<circle cx="1485.4" cy="1189.9" r="4.3" fill="#f00c0c" />
<circle cx="1425.4" cy="1201.6" r="4.3" fill="#f00c0c" />
<circle cx="1459.9" cy="1198.8" r="4.3" fill="#f00c0c" />
<circle cx="1466.1" cy="1199.5" r="4.3" fill="#f00c0c" />
<circle cx="1480.5" cy="1201.6" r="4.3" fill="#f00c0c" />
<circle cx="1473.6" cy="1207.8" r="4.3" fill="#f00c0c" />
<circle cx="1479.2" cy="1214.7" r="4.3" fill="#f00c0c" />
<circle cx="1451.6" cy="1207.8" r="4.3" fill="#f00c0c" />
<circle cx="1450.9" cy="1213.3" r="4.3" fill="#f00c0c" />
<circle cx="1435.8" cy="1212.6" r="4.3" fill="#f00c0c" />
<circle cx="1409.6" cy="1204.3" r="4.3" fill="#f00c0c" />
<circle cx="1446.1" cy="1225.0" r="4.3" fill="#f00c0c" />
<circle cx="1453.0" cy="1228.2" r="4.3" fill="#f00c0c" />
<circle cx="1461.2" cy="1220.2" r="4.3" fill="#f00c0c" />
<circle cx="1468.1" cy="1225.7" r="4.3" fill="#f00c0c" />
<circle cx="1469.5" cy="1229.8" r="4.3" fill="#f00c0c" />
<circle cx="1461.2" cy="1236.7" r="4.3" fill="#f00c0c" />
<circle cx="1421.3" cy="1224.3" r="4.3" fill="#f00c0c" />
<circle cx="1428.2" cy="1230.5" r="4.3" fill="#f00c0c" />
<circle cx="1572.8" cy="1229.1" r="4.3" fill="#f00c0c" />
<circle cx="1375.0" cy="1030.0" r="4.3" fill="#f00c0c" />
<circle cx="1376.0" cy="1045.0" r="4.3" fill="#f00c0c" />
<circle cx="1374.0" cy="1088.0" r="4.3" fill="#f00c0c" />
<circle cx="1375.0" cy="1100.0" r="4.3" fill="#f00c0c" />
<circle cx="1376.0" cy="1112.0" r="4.3" fill="#f00c0c" />
<circle cx="1375.0" cy="1125.0" r="4.3" fill="#f00c0c" />
<circle cx="1377.1" cy="1030.2" r="4.3" fill="#f00c0c" />
<circle cx="1373.7" cy="1118.4" r="4.3" fill="#f00c0c" />
<circle cx="1389.4" cy="1096.2" r="4.3" fill="#f00c0c" />
<circle cx="1377.6" cy="1040.5" r="4.3" fill="#f00c0c" />
<circle cx="1377.9" cy="1068.7" r="4.3" fill="#f00c0c" />
<circle cx="1375.2" cy="1067.0" r="4.3" fill="#f00c0c" />
<circle cx="1377.3" cy="1134.0" r="4.3" fill="#f00c0c" />
<circle cx="1391.5" cy="1080.1" r="4.3" fill="#f00c0c" />
<circle cx="1376.9" cy="1134.5" r="4.3" fill="#f00c0c" />
<circle cx="1378.2" cy="1055.4" r="4.3" fill="#f00c0c" />
<circle cx="1372.0" cy="1058.6" r="4.3" fill="#f00c0c" />
<circle cx="1381.5" cy="1074.4" r="4.3" fill="#f00c0c" />
<circle cx="1376.0" cy="1074.6" r="4.3" fill="#f00c0c" />
<circle cx="1372.1" cy="1043.3" r="4.3" fill="#f00c0c" />
<circle cx="1373.8" cy="1060.9" r="4.3" fill="#f00c0c" />
<circle cx="1372.8" cy="1011.9" r="4.3" fill="#f00c0c" />
<circle cx="1378.1" cy="1039.3" r="4.3" fill="#f00c0c" />
<circle cx="1383.7" cy="1077.8" r="4.3" fill="#f00c0c" />
<circle cx="1387.0" cy="1094.5" r="4.3" fill="#f00c0c" />
<circle cx="1386.3" cy="1123.3" r="4.3" fill="#f00c0c" />
<circle cx="1379.8" cy="1051.4" r="4.3" fill="#f00c0c" />
<circle cx="1391.7" cy="1028.4" r="4.3" fill="#f00c0c" />
<circle cx="1386.5" cy="1092.6" r="4.3" fill="#f00c0c" />
<circle cx="1372.9" cy="1117.6" r="4.3" fill="#f00c0c" />
<circle cx="1389.8" cy="1090.6" r="4.3" fill="#f00c0c" />
<circle cx="1386.7" cy="1114.6" r="4.3" fill="#f00c0c" />
<circle cx="1374.8" cy="1077.1" r="4.3" fill="#f00c0c" />
<circle cx="1382.1" cy="1117.5" r="4.3" fill="#f00c0c" />
<circle cx="1388.1" cy="1116.4" r="4.3" fill="#f00c0c" />
<circle cx="1383.7" cy="1125.1" r="4.3" fill="#f00c0c" />
<circle cx="1403.4" cy="1206.3" r="4.3" fill="#f00c0c" />
<circle cx="1382.6" cy="1142.0" r="4.3" fill="#f00c0c" />
<circle cx="1378.1" cy="1174.0" r="4.3" fill="#f00c0c" />
<circle cx="1376.8" cy="1220.1" r="4.3" fill="#f00c0c" />
<circle cx="1397.7" cy="1199.9" r="4.3" fill="#f00c0c" />
<circle cx="1400.8" cy="1205.0" r="4.3" fill="#f00c0c" />
<circle cx="1394.5" cy="1139.3" r="4.3" fill="#f00c0c" />
<circle cx="1408.7" cy="1211.6" r="4.3" fill="#f00c0c" />
<circle cx="1395.1" cy="1190.9" r="4.3" fill="#f00c0c" />
<circle cx="1375.4" cy="1164.8" r="4.3" fill="#f00c0c" />
<circle cx="1406.0" cy="1233.6" r="4.3" fill="#f00c0c" />
<circle cx="1394.7" cy="1176.1" r="4.3" fill="#f00c0c" />
<circle cx="1394.0" cy="1205.3" r="4.3" fill="#f00c0c" />
<circle cx="1407.3" cy="1198.8" r="4.3" fill="#f00c0c" />
<circle cx="1378.8" cy="1163.6" r="4.3" fill="#f00c0c" />
<circle cx="1374.8" cy="1165.1" r="4.3" fill="#f00c0c" />
<circle cx="1402.9" cy="1206.1" r="4.3" fill="#f00c0c" />
<circle cx="1395.8" cy="1184.1" r="4.3" fill="#f00c0c" />
<circle cx="1393.5" cy="1150.5" r="4.3" fill="#f00c0c" />
<circle cx="1372.8" cy="1183.5" r="4.3" fill="#f00c0c" />
<circle cx="1409.7" cy="1232.9" r="4.3" fill="#f00c0c" />
<circle cx="1392.7" cy="1165.1" r="4.3" fill="#f00c0c" />
<circle cx="1381.7" cy="1230.7" r="4.3" fill="#f00c0c" />
<circle cx="1381.7" cy="1195.4" r="4.3" fill="#f00c0c" />
<circle cx="1378.5" cy="1189.8" r="4.3" fill="#f00c0c" />
<circle cx="1382.6" cy="1226.1" r="4.3" fill="#f00c0c" />
<circle cx="1394.4" cy="1141.4" r="4.3" fill="#f00c0c" />
<circle cx="1372.2" cy="1186.7" r="4.3" fill="#f00c0c" />
<circle cx="1392.7" cy="1168.3" r="4.3" fill="#f00c0c" />
<circle cx="1378.5" cy="1172.4" r="4.3" fill="#f00c0c" />
<circle cx="1386.5" cy="1220.5" r="4.3" fill="#f00c0c" />
<circle cx="1372.1" cy="1211.8" r="4.3" fill="#f00c0c" />
<circle cx="1389.1" cy="1177.1" r="4.3" fill="#f00c0c" />
<circle cx="1388.6" cy="1180.5" r="4.3" fill="#f00c0c" />
<circle cx="1384.7" cy="1143.7" r="4.3" fill="#f00c0c" />
<circle cx="1376.7" cy="1220.0" r="4.3" fill="#f00c0c" />
<circle cx="1385.1" cy="1229.8" r="4.3" fill="#f00c0c" />
<circle cx="1383.5" cy="1164.8" r="4.3" fill="#f00c0c" />
<circle cx="1395.5" cy="1157.4" r="4.3" fill="#f00c0c" />
<circle cx="1389.2" cy="1231.7" r="4.3" fill="#f00c0c" />
<circle cx="1412.7" cy="1217.8" r="4.3" fill="#f00c0c" />
<circle cx="1401.0" cy="1227.6" r="4.3" fill="#f00c0c" />
<circle cx="1405.7" cy="1182.7" r="4.3" fill="#f00c0c" />
<circle cx="1406.6" cy="1201.5" r="4.3" fill="#f00c0c" />
<circle cx="1385.2" cy="1143.8" r="4.3" fill="#f00c0c" />
<circle cx="1393.7" cy="1172.3" r="4.3" fill="#f00c0c" />
<circle cx="1385.7" cy="1210.7" r="4.3" fill="#f00c0c" />
<circle cx="1402.2" cy="1168.2" r="4.3" fill="#f00c0c" />
<circle cx="1397.6" cy="1177.3" r="4.3" fill="#f00c0c" />
<circle cx="1379.7" cy="1154.7" r="4.3" fill="#f00c0c" />
<circle cx="1381.6" cy="1226.9" r="4.3" fill="#f00c0c" />
<circle cx="1394.9" cy="1160.3" r="4.3" fill="#f00c0c" />
<circle cx="1413.7" cy="1235.7" r="4.3" fill="#f00c0c" />
<circle cx="1392.7" cy="1152.5" r="4.3" fill="#f00c0c" />
<circle cx="1380.9" cy="1147.8" r="4.3" fill="#f00c0c" />
<circle cx="1387.7" cy="1147.8" r="4.3" fill="#f00c0c" />
<circle cx="1383.0" cy="1164.1" r="4.3" fill="#f00c0c" />
<circle cx="1398.2" cy="1225.1" r="4.3" fill="#f00c0c" />
<circle cx="1391.0" cy="1189.8" r="4.3" fill="#f00c0c" />
<circle cx="1389.3" cy="1171.8" r="4.3" fill="#f00c0c" />
<circle cx="1374.9" cy="1165.9" r="4.3" fill="#f00c0c" />
<circle cx="1395.2" cy="1200.1" r="4.3" fill="#f00c0c" />
<circle cx="1384.5" cy="1163.1" r="4.3" fill="#f00c0c" />
<circle cx="1390.4" cy="1182.2" r="4.3" fill="#f00c0c" />
<circle cx="1373.5" cy="1207.8" r="4.3" fill="#f00c0c" />
<circle cx="1390.0" cy="1228.9" r="4.3" fill="#f00c0c" />
<circle cx="1410.0" cy="1222.0" r="4.3" fill="#f00c0c" />
<circle cx="1377.0" cy="1154.0" r="4.3" fill="#f00c0c" />
<circle cx="1396.0" cy="1205.2" r="4.3" fill="#f00c0c" />
<circle cx="1401.8" cy="1213.2" r="4.3" fill="#f00c0c" />
<circle cx="1393.0" cy="1192.5" r="4.3" fill="#f00c0c" />
<circle cx="1373.8" cy="1214.9" r="4.3" fill="#f00c0c" />
<circle cx="1382.7" cy="1228.2" r="4.3" fill="#f00c0c" />
<circle cx="1401.7" cy="1168.5" r="4.3" fill="#f00c0c" />
<circle cx="1377.9" cy="1163.4" r="4.3" fill="#f00c0c" />
<circle cx="1401.3" cy="1206.8" r="4.3" fill="#f00c0c" />
<circle cx="1377.2" cy="1145.8" r="4.3" fill="#f00c0c" />
<circle cx="1396.1" cy="1195.5" r="4.3" fill="#f00c0c" />
<circle cx="1389.9" cy="1160.7" r="4.3" fill="#f00c0c" />
<circle cx="1385.9" cy="1183.7" r="4.3" fill="#f00c0c" />
<circle cx="1382.8" cy="1163.0" r="4.3" fill="#f00c0c" />
<circle cx="1386.1" cy="1141.1" r="4.3" fill="#f00c0c" />
<circle cx="1394.9" cy="1204.4" r="4.3" fill="#f00c0c" />
<circle cx="1391.3" cy="1164.0" r="4.3" fill="#f00c0c" />
<circle cx="1402.7" cy="1228.7" r="4.3" fill="#f00c0c" />
<circle cx="1382.4" cy="1142.3" r="4.3" fill="#f00c0c" />
<circle cx="1387.6" cy="1179.8" r="4.3" fill="#f00c0c" />
<circle cx="1408.7" cy="1210.7" r="4.3" fill="#f00c0c" />
<circle cx="1395.2" cy="1158.9" r="4.3" fill="#f00c0c" />
<circle cx="1382.2" cy="1212.8" r="4.3" fill="#f00c0c" />
<circle cx="1406.2" cy="1233.3" r="4.3" fill="#f00c0c" />
<circle cx="1402.3" cy="1203.4" r="4.3" fill="#f00c0c" />
<circle cx="1426.6" cy="1233.1" r="4.3" fill="#f00c0c" />
<circle cx="1398.1" cy="1202.0" r="4.3" fill="#f00c0c" />
<circle cx="1401.7" cy="1234.6" r="4.3" fill="#f00c0c" />
<circle cx="1393.3" cy="1202.0" r="4.3" fill="#f00c0c" />
<circle cx="1439.4" cy="1229.5" r="4.3" fill="#f00c0c" />
<circle cx="1430.3" cy="1235.9" r="4.3" fill="#f00c0c" />
<circle cx="1400.2" cy="1232.4" r="4.3" fill="#f00c0c" />
<circle cx="1410.6" cy="1198.6" r="4.3" fill="#f00c0c" />
<circle cx="1405.4" cy="1199.7" r="4.3" fill="#f00c0c" />
<circle cx="1409.6" cy="1226.0" r="4.3" fill="#f00c0c" />
<circle cx="1392.7" cy="1206.5" r="4.3" fill="#f00c0c" />
<circle cx="1410.5" cy="1231.5" r="4.3" fill="#f00c0c" />
<circle cx="1400.6" cy="1200.4" r="4.3" fill="#f00c0c" />
<line x1="1327.8" y1="848.0" x2="1327.8" y2="1302.1" stroke="#000" stroke-width="2.8" stroke-dasharray="7.9,6.5"/>
<line x1="1372.9" y1="848.0" x2="1372.9" y2="1302.1" stroke="#000" stroke-width="2.8" stroke-dasharray="7.9,6.5"/>
<line x1="1122.5" y1="1237.3" x2="1577.7" y2="1237.3" stroke="#000" stroke-width="2.5" stroke-dasharray="7.9,6.5"/>
<text x="1296.4" y="876.5" font-size="16" text-anchor="end" stroke="#000" stroke-width="0.25">Rbbp9</text>
<text x="1281.0" y="910.0" font-size="16" text-anchor="end" stroke="#000" stroke-width="0.25">Rubcnl</text>
<text x="1319.5" y="934.0" font-size="16" text-anchor="end" stroke="#000" stroke-width="0.25">Sirpb1b</text>
<text x="1292.0" y="968.4" font-size="16" text-anchor="end" stroke="#000" stroke-width="0.25">Gm11100</text>
<text x="1216.0" y="990.0" font-size="16" text-anchor="end" stroke="#000" stroke-width="0.25">Pnmt</text>
<text x="1255.0" y="1014.0" font-size="16" text-anchor="end" stroke="#000" stroke-width="0.25">Csf2rb2</text>
<text x="1239.5" y="1034.0" font-size="16" text-anchor="end" stroke="#000" stroke-width="0.25">Eif4a3l1</text>
<text x="1248.5" y="1081.0" font-size="16" text-anchor="end" stroke="#000" stroke-width="0.25">Defb41</text>
<text x="1294.0" y="1104.0" font-size="16" text-anchor="end" stroke="#000" stroke-width="0.25">Zfp985</text>
<text x="1188.5" y="1129.0" font-size="16" text-anchor="end" stroke="#000" stroke-width="0.25">Sult1c1</text>
<text x="1206.0" y="1180.0" font-size="16" text-anchor="end" stroke="#000" stroke-width="0.25">Gm21992</text>
<text x="1395.8" y="897.2" font-size="16" text-anchor="start" stroke="#000" stroke-width="0.25">Trpv2</text>
<text x="1482.6" y="911.6" font-size="16" text-anchor="start" stroke="#000" stroke-width="0.25">Pik3ap1</text>
<text x="1430.2" y="942.0" font-size="16" text-anchor="start" stroke="#000" stroke-width="0.25">Gli3</text>
<text x="1512.9" y="961.5" font-size="16" text-anchor="start" stroke="#000" stroke-width="0.25">Slc14a1</text>
<text x="1434.8" y="975.0" font-size="16" text-anchor="start" stroke="#000" stroke-width="0.25">Mef2b</text>
<text x="1434.4" y="992.9" font-size="16" text-anchor="start" stroke="#000" stroke-width="0.25">Kcnk18</text>
<text x="1521.6" y="997.3" font-size="16" text-anchor="start" stroke="#000" stroke-width="0.25">Spesp1</text>
<text x="1503.7" y="1036.3" font-size="16" text-anchor="start" stroke="#000" stroke-width="0.25">Gm36722</text>
<text x="1438.9" y="1043.2" font-size="16" text-anchor="start" stroke="#000" stroke-width="0.25">Syt9</text>
<text x="1457.0" y="1100.0" font-size="16" text-anchor="start" stroke="#000" stroke-width="0.25">Lypd3</text>
<text x="1536.5" y="1093.0" font-size="16" text-anchor="start" stroke="#000" stroke-width="0.25">Reg2</text>
<text x="1498.0" y="1125.0" font-size="16" text-anchor="start" stroke="#000" stroke-width="0.25">Gm45929</text>
<rect x="1122.9" y="847.4" width="454.8" height="454.7" fill="none" stroke="#000" stroke-width="2.8"/>
<line x1="1111.3" y1="1273.2" x2="1122.9" y2="1273.2" stroke="#000" stroke-width="2.6" />
<text x="1107.5" y="1287.4" font-size="40" text-anchor="end" >0</text>
<line x1="1111.3" y1="1131.2" x2="1122.9" y2="1131.2" stroke="#000" stroke-width="2.6" />
<text x="1107.5" y="1145.5" font-size="40" text-anchor="end" >5</text>
<line x1="1111.3" y1="989.3" x2="1122.9" y2="989.3" stroke="#000" stroke-width="2.6" />
<text x="1107.5" y="1003.5" font-size="40" text-anchor="end" >10</text>
<line x1="1111.3" y1="847.4" x2="1122.9" y2="847.4" stroke="#000" stroke-width="2.6" />
<text x="1107.5" y="861.6" font-size="40" text-anchor="end" >15</text>
<line x1="1122.9" y1="1302.1" x2="1122.9" y2="1314.0" stroke="#000" stroke-width="2.7" />
<text x="1145.1" y="1349.6" font-size="40" text-anchor="end" >-10</text>
<line x1="1236.6" y1="1302.1" x2="1236.6" y2="1314.0" stroke="#000" stroke-width="2.7" />
<text x="1247.7" y="1349.6" font-size="40" text-anchor="end" >-5</text>
<line x1="1350.3" y1="1302.1" x2="1350.3" y2="1314.0" stroke="#000" stroke-width="2.7" />
<text x="1350.3" y="1349.6" font-size="40" text-anchor="middle" >0</text>
<line x1="1464.0" y1="1302.1" x2="1464.0" y2="1314.0" stroke="#000" stroke-width="2.7" />
<text x="1464.0" y="1349.6" font-size="40" text-anchor="middle" >5</text>
<line x1="1577.7" y1="1302.1" x2="1577.7" y2="1314.0" stroke="#000" stroke-width="2.7" />
<text x="1577.7" y="1349.6" font-size="40" text-anchor="middle" >10</text>
<text x="1353.0" y="1400.4" font-size="40" text-anchor="middle" >Log2 (FC)</text>
<text x="0.0" y="0.0" font-size="40" text-anchor="middle" transform="translate(1037.8,1059) rotate(-90)">-Log10 (FDR)</text>
<circle cx="1597.9" cy="864.9" r="8.2" fill="#f00c0c" />
<text x="1615.5" y="880.2" font-size="40" text-anchor="start" >Up: 300</text>
<circle cx="1597.9" cy="918.4" r="8.2" fill="#0a0ae6" />
<text x="1615.5" y="932.0" font-size="40" text-anchor="start" >Down: 157</text>
<circle cx="1597.9" cy="969.1" r="8.2" fill="#b3b3b3" />
<text x="1615.5" y="982.8" font-size="40" text-anchor="start" >None</text>
<line x1="404.0" y1="1560.0" x2="297.5" y2="1720.8" stroke="#de2318" stroke-width="2.8" />
<line x1="404.0" y1="1560.0" x2="321.4" y2="1744.9" stroke="#de2318" stroke-width="2.8" />
<line x1="404.0" y1="1560.0" x2="363.6" y2="1785.4" stroke="#de2318" stroke-width="2.8" />
<line x1="404.0" y1="1560.0" x2="389.9" y2="1840.6" stroke="#de2318" stroke-width="2.8" />
<line x1="404.0" y1="1560.0" x2="431.5" y2="1771.8" stroke="#de2318" stroke-width="2.8" />
<line x1="404.0" y1="1560.0" x2="476.8" y2="1868.9" stroke="#de2318" stroke-width="2.8" />
<line x1="404.0" y1="1560.0" x2="521.8" y2="1802.5" stroke="#de2318" stroke-width="2.8" />
<line x1="404.0" y1="1560.0" x2="511.2" y2="1746.2" stroke="#de2318" stroke-width="2.8" />
<line x1="404.0" y1="1560.0" x2="509.6" y2="1691.5" stroke="#de2318" stroke-width="2.8" />
<line x1="404.0" y1="1560.0" x2="645.9" y2="1754.9" stroke="#de2318" stroke-width="2.8" />
<line x1="404.0" y1="1560.0" x2="503.4" y2="1658.8" stroke="#de2318" stroke-width="2.8" />
<line x1="218.5" y1="1712.0" x2="289.9" y2="1655.9" stroke="#de2318" stroke-width="2.8" />
<line x1="218.5" y1="1712.0" x2="297.5" y2="1720.8" stroke="#de2318" stroke-width="2.8" />
<line x1="218.5" y1="1712.0" x2="350.7" y2="1719.5" stroke="#de2318" stroke-width="2.8" />
<line x1="218.5" y1="1712.0" x2="358.6" y2="1738.3" stroke="#de2318" stroke-width="2.8" />
<line x1="218.5" y1="1712.0" x2="431.5" y2="1771.8" stroke="#de2318" stroke-width="2.8" />
<line x1="218.5" y1="1712.0" x2="321.4" y2="1744.9" stroke="#de2318" stroke-width="2.8" />
<line x1="218.5" y1="1712.0" x2="363.6" y2="1785.4" stroke="#de2318" stroke-width="2.8" />
<line x1="218.5" y1="1712.0" x2="389.9" y2="1840.6" stroke="#de2318" stroke-width="2.8" />
<line x1="218.5" y1="1712.0" x2="325.6" y2="1859.7" stroke="#de2318" stroke-width="2.8" />
<line x1="218.5" y1="1712.0" x2="521.8" y2="1802.5" stroke="#de2318" stroke-width="2.8" />
<line x1="218.5" y1="1712.0" x2="511.2" y2="1746.2" stroke="#de2318" stroke-width="2.8" />
<line x1="213.9" y1="1908.5" x2="289.9" y2="1655.9" stroke="#de2318" stroke-width="2.8" />
<line x1="213.9" y1="1908.5" x2="297.5" y2="1720.8" stroke="#de2318" stroke-width="2.8" />
<line x1="213.9" y1="1908.5" x2="321.4" y2="1744.9" stroke="#de2318" stroke-width="2.8" />
<line x1="213.9" y1="1908.5" x2="283.6" y2="1835.8" stroke="#de2318" stroke-width="2.8" />
<line x1="213.9" y1="1908.5" x2="325.6" y2="1859.7" stroke="#de2318" stroke-width="2.8" />
<line x1="213.9" y1="1908.5" x2="389.9" y2="1840.6" stroke="#de2318" stroke-width="2.8" />
<line x1="213.9" y1="1908.5" x2="476.8" y2="1868.9" stroke="#de2318" stroke-width="2.8" />
<line x1="213.9" y1="1908.5" x2="562.9" y2="1894.0" stroke="#de2318" stroke-width="2.8" />
<line x1="213.9" y1="1908.5" x2="616.4" y2="1882.0" stroke="#de2318" stroke-width="2.8" />
<line x1="213.9" y1="1908.5" x2="521.8" y2="1802.5" stroke="#de2318" stroke-width="2.8" />
<line x1="304.3" y1="2002.5" x2="325.6" y2="1859.7" stroke="#de2318" stroke-width="2.8" />
<line x1="304.3" y1="2002.5" x2="389.9" y2="1840.6" stroke="#de2318" stroke-width="2.8" />
<line x1="304.3" y1="2002.5" x2="363.6" y2="1785.4" stroke="#de2318" stroke-width="2.8" />
<line x1="304.3" y1="2002.5" x2="321.4" y2="1744.9" stroke="#de2318" stroke-width="2.8" />
<line x1="304.3" y1="2002.5" x2="431.5" y2="1771.8" stroke="#de2318" stroke-width="2.8" />
<line x1="304.3" y1="2002.5" x2="521.8" y2="1802.5" stroke="#de2318" stroke-width="2.8" />
<line x1="304.3" y1="2002.5" x2="476.8" y2="1868.9" stroke="#de2318" stroke-width="2.8" />
<line x1="304.3" y1="2002.5" x2="435.2" y2="1944.2" stroke="#de2318" stroke-width="2.8" />
<line x1="304.3" y1="2002.5" x2="392.2" y2="1976.5" stroke="#de2318" stroke-width="2.8" />
<line x1="304.3" y1="2002.5" x2="562.9" y2="1894.0" stroke="#de2318" stroke-width="2.8" />
<line x1="304.3" y1="2002.5" x2="350.7" y2="1719.5" stroke="#de2318" stroke-width="2.8" />
<line x1="431.5" y1="1771.8" x2="289.9" y2="1655.9" stroke="#de2318" stroke-width="2.8" />
<line x1="431.5" y1="1771.8" x2="283.6" y2="1835.8" stroke="#de2318" stroke-width="2.8" />
<line x1="431.5" y1="1771.8" x2="406.5" y2="1639.2" stroke="#de2318" stroke-width="2.8" />
<line x1="431.5" y1="1771.8" x2="382.2" y2="1657.6" stroke="#de2318" stroke-width="2.8" />
<line x1="431.5" y1="1771.8" x2="433.0" y2="1653.3" stroke="#de2318" stroke-width="2.8" />
<line x1="431.5" y1="1771.8" x2="374.8" y2="1690.6" stroke="#de2318" stroke-width="2.8" />
<line x1="431.5" y1="1771.8" x2="447.3" y2="1683.4" stroke="#de2318" stroke-width="2.8" />
<line x1="431.5" y1="1771.8" x2="476.5" y2="1635.5" stroke="#de2318" stroke-width="2.8" />
<line x1="431.5" y1="1771.8" x2="503.4" y2="1658.8" stroke="#de2318" stroke-width="2.8" />
<line x1="431.5" y1="1771.8" x2="350.7" y2="1719.5" stroke="#de2318" stroke-width="2.8" />
<line x1="431.5" y1="1771.8" x2="358.6" y2="1738.3" stroke="#de2318" stroke-width="2.8" />
<line x1="431.5" y1="1771.8" x2="321.4" y2="1744.9" stroke="#de2318" stroke-width="2.8" />
<line x1="431.5" y1="1771.8" x2="297.5" y2="1720.8" stroke="#de2318" stroke-width="2.8" />
<line x1="431.5" y1="1771.8" x2="363.6" y2="1785.4" stroke="#de2318" stroke-width="2.8" />
<line x1="431.5" y1="1771.8" x2="511.2" y2="1746.2" stroke="#de2318" stroke-width="2.8" />
<line x1="431.5" y1="1771.8" x2="509.6" y2="1691.5" stroke="#de2318" stroke-width="2.8" />
<line x1="431.5" y1="1771.8" x2="645.9" y2="1754.9" stroke="#de2318" stroke-width="2.8" />
<line x1="431.5" y1="1771.8" x2="521.8" y2="1802.5" stroke="#de2318" stroke-width="2.8" />
<line x1="431.5" y1="1771.8" x2="389.9" y2="1840.6" stroke="#de2318" stroke-width="2.8" />
<line x1="431.5" y1="1771.8" x2="476.8" y2="1868.9" stroke="#de2318" stroke-width="2.8" />
<line x1="431.5" y1="1771.8" x2="435.2" y2="1944.2" stroke="#de2318" stroke-width="2.8" />
<line x1="431.5" y1="1771.8" x2="616.4" y2="1882.0" stroke="#de2318" stroke-width="2.8" />
<line x1="431.5" y1="1771.8" x2="559.1" y2="1690.4" stroke="#de2318" stroke-width="2.8" />
<line x1="593.3" y1="1584.5" x2="509.6" y2="1691.5" stroke="#2a2ee8" stroke-width="2.8" />
<line x1="593.3" y1="1584.5" x2="389.9" y2="1840.6" stroke="#2a2ee8" stroke-width="2.8" />
<line x1="593.3" y1="1584.5" x2="511.2" y2="1746.2" stroke="#2a2ee8" stroke-width="2.8" />
<line x1="593.3" y1="1584.5" x2="521.8" y2="1802.5" stroke="#2a2ee8" stroke-width="2.8" />
<line x1="593.3" y1="1584.5" x2="562.9" y2="1894.0" stroke="#2a2ee8" stroke-width="2.8" />
<line x1="593.3" y1="1584.5" x2="616.4" y2="1882.0" stroke="#2a2ee8" stroke-width="2.8" />
<line x1="593.3" y1="1584.5" x2="645.9" y2="1754.9" stroke="#2a2ee8" stroke-width="2.8" />
<line x1="689.3" y1="1677.0" x2="509.6" y2="1691.5" stroke="#2a2ee8" stroke-width="2.8" />
<line x1="689.3" y1="1677.0" x2="559.1" y2="1690.4" stroke="#2a2ee8" stroke-width="2.8" />
<line x1="689.3" y1="1677.0" x2="511.2" y2="1746.2" stroke="#2a2ee8" stroke-width="2.8" />
<line x1="689.3" y1="1677.0" x2="389.9" y2="1840.6" stroke="#2a2ee8" stroke-width="2.8" />
<line x1="689.3" y1="1677.0" x2="521.8" y2="1802.5" stroke="#2a2ee8" stroke-width="2.8" />
<line x1="689.3" y1="1677.0" x2="645.9" y2="1754.9" stroke="#2a2ee8" stroke-width="2.8" />
<line x1="689.3" y1="1677.0" x2="616.4" y2="1882.0" stroke="#2a2ee8" stroke-width="2.8" />
<line x1="689.3" y1="1677.0" x2="562.9" y2="1894.0" stroke="#2a2ee8" stroke-width="2.8" />
<line x1="720.3" y1="1823.3" x2="509.6" y2="1691.5" stroke="#2a2ee8" stroke-width="2.8" />
<line x1="720.3" y1="1823.3" x2="559.1" y2="1690.4" stroke="#2a2ee8" stroke-width="2.8" />
<line x1="720.3" y1="1823.3" x2="511.2" y2="1746.2" stroke="#2a2ee8" stroke-width="2.8" />
<line x1="720.3" y1="1823.3" x2="521.8" y2="1802.5" stroke="#2a2ee8" stroke-width="2.8" />
<line x1="720.3" y1="1823.3" x2="389.9" y2="1840.6" stroke="#2a2ee8" stroke-width="2.8" />
<line x1="720.3" y1="1823.3" x2="476.8" y2="1868.9" stroke="#2a2ee8" stroke-width="2.8" />
<line x1="720.3" y1="1823.3" x2="616.4" y2="1882.0" stroke="#2a2ee8" stroke-width="2.8" />
<line x1="720.3" y1="1823.3" x2="562.9" y2="1894.0" stroke="#2a2ee8" stroke-width="2.8" />
<line x1="720.3" y1="1823.3" x2="645.9" y2="1754.9" stroke="#2a2ee8" stroke-width="2.8" />
<line x1="720.3" y1="1823.3" x2="325.6" y2="1859.7" stroke="#2a2ee8" stroke-width="2.8" />
<line x1="468.6" y1="2039.4" x2="325.6" y2="1859.7" stroke="#2a2ee8" stroke-width="2.8" />
<line x1="468.6" y1="2039.4" x2="389.9" y2="1840.6" stroke="#2a2ee8" stroke-width="2.8" />
<line x1="468.6" y1="2039.4" x2="476.8" y2="1868.9" stroke="#2a2ee8" stroke-width="2.8" />
<line x1="468.6" y1="2039.4" x2="562.9" y2="1894.0" stroke="#2a2ee8" stroke-width="2.8" />
<line x1="468.6" y1="2039.4" x2="616.4" y2="1882.0" stroke="#2a2ee8" stroke-width="2.8" />
<line x1="468.6" y1="2039.4" x2="521.8" y2="1802.5" stroke="#2a2ee8" stroke-width="2.8" />
<line x1="468.6" y1="2039.4" x2="511.2" y2="1746.2" stroke="#2a2ee8" stroke-width="2.8" />
<line x1="640.7" y1="1978.6" x2="509.6" y2="1691.5" stroke="#e2c23a" stroke-width="2.8" />
<line x1="640.7" y1="1978.6" x2="511.2" y2="1746.2" stroke="#e2c23a" stroke-width="2.8" />
<line x1="640.7" y1="1978.6" x2="645.9" y2="1754.9" stroke="#e2c23a" stroke-width="2.8" />
<line x1="640.7" y1="1978.6" x2="325.6" y2="1859.7" stroke="#e2c23a" stroke-width="2.8" />
<line x1="640.7" y1="1978.6" x2="389.9" y2="1840.6" stroke="#e2c23a" stroke-width="2.8" />
<line x1="640.7" y1="1978.6" x2="616.4" y2="1882.0" stroke="#e2c23a" stroke-width="2.8" />
<line x1="640.7" y1="1978.6" x2="521.8" y2="1802.5" stroke="#e2c23a" stroke-width="2.8" />
<circle cx="289.9" cy="1655.9" r="8.0" fill="#58a2e8" />
<circle cx="406.5" cy="1639.2" r="8.0" fill="#58a2e8" />
<circle cx="476.5" cy="1635.5" r="8.0" fill="#58a2e8" />
<circle cx="382.2" cy="1657.6" r="8.0" fill="#58a2e8" />
<circle cx="433.0" cy="1653.3" r="8.0" fill="#58a2e8" />
<circle cx="503.4" cy="1658.8" r="8.0" fill="#58a2e8" />
<circle cx="374.8" cy="1690.6" r="8.0" fill="#58a2e8" />
<circle cx="447.3" cy="1683.4" r="8.0" fill="#58a2e8" />
<circle cx="509.6" cy="1691.5" r="10.0" fill="#4c8ee2" />
<circle cx="559.1" cy="1690.4" r="8.5" fill="#58a2e8" />
<circle cx="297.5" cy="1720.8" r="8.0" fill="#58a2e8" />
<circle cx="350.7" cy="1719.5" r="8.0" fill="#58a2e8" />
<circle cx="321.4" cy="1744.9" r="9.4" fill="#58a2e8" />
<circle cx="358.6" cy="1738.3" r="8.0" fill="#58a2e8" />
<circle cx="511.2" cy="1746.2" r="10.0" fill="#4c8ee2" />
<circle cx="645.9" cy="1754.9" r="10.0" fill="#4c8ee2" />
<circle cx="363.6" cy="1785.4" r="8.0" fill="#58a2e8" />
<circle cx="521.8" cy="1802.5" r="10.5" fill="#4c8ee2" />
<circle cx="283.6" cy="1835.8" r="8.0" fill="#58a2e8" />
<circle cx="389.9" cy="1840.6" r="12.0" fill="#4c8ee2" />
<circle cx="325.6" cy="1859.7" r="10.0" fill="#4c8ee2" />
<circle cx="476.8" cy="1868.9" r="10.0" fill="#4c8ee2" />
<circle cx="616.4" cy="1882.0" r="11.0" fill="#4c8ee2" />
<circle cx="562.9" cy="1894.0" r="11.0" fill="#4c8ee2" />
<circle cx="435.2" cy="1944.2" r="9.0" fill="#58a2e8" />
<circle cx="392.2" cy="1976.5" r="8.0" fill="#58a2e8" />
<rect x="388.0" y="1544.0" width="32.0" height="32.0" fill="#f0b0f8" />
<rect x="576.8" y="1568.0" width="33.0" height="33.0" fill="#f0b0f8" />
<rect x="673.8" y="1661.5" width="31.0" height="31.0" fill="#f0b0f8" />
<rect x="202.5" y="1696.0" width="32.0" height="32.0" fill="#f0b0f8" />
<rect x="403.5" y="1743.8" width="56.0" height="56.0" fill="#bb2cf6" />
<rect x="703.8" y="1806.8" width="33.0" height="33.0" fill="#f0b0f8" />
<rect x="197.4" y="1892.0" width="33.0" height="33.0" fill="#f0b0f8" />
<rect x="624.2" y="1962.1" width="33.0" height="33.0" fill="#f0b0f8" />
<rect x="288.3" y="1986.5" width="32.0" height="32.0" fill="#f0b0f8" />
<rect x="453.6" y="2024.4" width="30.0" height="30.0" fill="#f0b0f8" />
<text x="0" y="0" font-size="38.5" font-weight="bold" transform="translate(249.5,1730.8) scale(1.1524,1)" stroke="#000" stroke-width="2.3" stroke-linejoin="round">Autophagy-animal</text>
<text x="113.5" y="1532.6" font-size="40" text-anchor="start" >Herpes simplex</text>
<text x="102.5" y="1572.4" font-size="40" text-anchor="start" >virus 1 infection</text>
<text x="511.0" y="1517.0" font-size="40" text-anchor="start" >mTOR signaling</text>
<text x="511.0" y="1557.0" font-size="40" text-anchor="start" >pathway</text>
<text x="715.0" y="1603.4" font-size="40" text-anchor="start" >AMPK</text>
<text x="715.0" y="1643.2" font-size="40" text-anchor="start" >signaling</text>
<text x="715.0" y="1683.5" font-size="40" text-anchor="start" >pathway</text>
<text x="8.5" y="1639.6" font-size="40" text-anchor="start" >Non-alcoholic fatty</text>
<text x="8.5" y="1678.3" font-size="40" text-anchor="start" >liver disease</text>
<text x="747.0" y="1794.6" font-size="40" text-anchor="start" >PI3K-Akt</text>
<text x="747.0" y="1833.3" font-size="40" text-anchor="start" >signaling</text>
<text x="747.0" y="1873.6" font-size="40" text-anchor="start" >pathway</text>
<text x="12.0" y="1918.5" font-size="40" text-anchor="start" >Apoptosis</text>
<text x="680.5" y="1949.6" font-size="40" text-anchor="start" >Insulin</text>
<text x="668.5" y="1988.3" font-size="40" text-anchor="start" >signaling</text>
<text x="668.5" y="2027.0" font-size="40" text-anchor="start" >pathway</text>
<text x="89.5" y="2011.5" font-size="40" text-anchor="start" >Shigellosis</text>
<text x="349.5" y="2089.0" font-size="40" text-anchor="start" >FoxO signaling</text>
<text x="349.5" y="2127.8" font-size="40" text-anchor="start" >pathway</text>
<circle cx="256.8" cy="2182.0" r="19.8" fill="#4a58dc" />
<text x="289.5" y="2197.5" font-size="40" text-anchor="start" >Gene</text>
<rect x="415.9" y="2164.0" width="36.1" height="36.2" fill="#b52cf6" />
<text x="464.8" y="2197.5" font-size="40" text-anchor="start" >KEGG pathway</text>
<line x1="1142.5" y1="1696.3" x2="1448.2" y2="1730.8" stroke="#de2318" stroke-width="2.8" />
<line x1="1142.5" y1="1696.3" x2="1308.4" y2="1752.7" stroke="#de2318" stroke-width="2.8" />
<line x1="1142.5" y1="1696.3" x2="1294.4" y2="1827.0" stroke="#de2318" stroke-width="2.8" />
<line x1="1142.5" y1="1696.3" x2="1491.3" y2="1840.4" stroke="#de2318" stroke-width="2.8" />
<line x1="1317.4" y1="1624.7" x2="1308.4" y2="1752.7" stroke="#de2318" stroke-width="2.8" />
<line x1="1317.4" y1="1624.7" x2="1294.4" y2="1827.0" stroke="#de2318" stroke-width="2.8" />
<line x1="1317.4" y1="1624.7" x2="1355.0" y2="1919.0" stroke="#de2318" stroke-width="2.8" />
<line x1="1317.4" y1="1624.7" x2="1448.2" y2="1730.8" stroke="#de2318" stroke-width="2.8" />
<line x1="1317.4" y1="1624.7" x2="1491.3" y2="1840.4" stroke="#de2318" stroke-width="2.8" />
<line x1="1122.8" y1="1835.5" x2="1308.4" y2="1752.7" stroke="#de2318" stroke-width="2.8" />
<line x1="1122.8" y1="1835.5" x2="1448.2" y2="1730.8" stroke="#de2318" stroke-width="2.8" />
<line x1="1122.8" y1="1835.5" x2="1294.4" y2="1827.0" stroke="#de2318" stroke-width="2.8" />
<line x1="1122.8" y1="1835.5" x2="1491.3" y2="1840.4" stroke="#de2318" stroke-width="2.8" />
<line x1="1156.3" y1="1962.1" x2="1308.4" y2="1752.7" stroke="#de2318" stroke-width="2.8" />
<line x1="1156.3" y1="1962.1" x2="1294.4" y2="1827.0" stroke="#de2318" stroke-width="2.8" />
<line x1="1156.3" y1="1962.1" x2="1448.2" y2="1730.8" stroke="#de2318" stroke-width="2.8" />
<line x1="1156.3" y1="1962.1" x2="1491.3" y2="1840.4" stroke="#de2318" stroke-width="2.8" />
<line x1="1636.6" y1="1803.0" x2="1448.2" y2="1730.8" stroke="#de2318" stroke-width="2.8" />
<line x1="1636.6" y1="1803.0" x2="1294.4" y2="1827.0" stroke="#de2318" stroke-width="2.8" />
<line x1="1636.6" y1="1803.0" x2="1491.3" y2="1840.4" stroke="#de2318" stroke-width="2.8" />
<line x1="1636.6" y1="1803.0" x2="1534.6" y2="1969.5" stroke="#de2318" stroke-width="2.8" />
<line x1="1636.6" y1="1803.0" x2="1308.4" y2="1752.7" stroke="#de2318" stroke-width="2.8" />
<line x1="1629.5" y1="1924.8" x2="1448.2" y2="1730.8" stroke="#de2318" stroke-width="2.8" />
<line x1="1629.5" y1="1924.8" x2="1294.4" y2="1827.0" stroke="#de2318" stroke-width="2.8" />
<line x1="1629.5" y1="1924.8" x2="1491.3" y2="1840.4" stroke="#de2318" stroke-width="2.8" />
<line x1="1629.5" y1="1924.8" x2="1534.6" y2="1969.5" stroke="#de2318" stroke-width="2.8" />
<line x1="1451.8" y1="1959.0" x2="1448.2" y2="1730.8" stroke="#de2318" stroke-width="2.8" />
<line x1="1451.8" y1="1959.0" x2="1294.4" y2="1827.0" stroke="#de2318" stroke-width="2.8" />
<line x1="1451.8" y1="1959.0" x2="1491.3" y2="1840.4" stroke="#de2318" stroke-width="2.8" />
<line x1="1451.8" y1="1959.0" x2="1355.0" y2="1919.0" stroke="#de2318" stroke-width="2.8" />
<line x1="1451.8" y1="1959.0" x2="1373.4" y2="1973.5" stroke="#de2318" stroke-width="2.8" />
<line x1="1451.8" y1="1959.0" x2="1534.6" y2="1969.5" stroke="#de2318" stroke-width="2.8" />
<line x1="1451.8" y1="1959.0" x2="1353.2" y2="2028.8" stroke="#de2318" stroke-width="2.8" />
<line x1="1451.8" y1="1959.0" x2="1420.3" y2="2034.7" stroke="#de2318" stroke-width="2.8" />
<line x1="1451.8" y1="1959.0" x2="1466.9" y2="2049.2" stroke="#de2318" stroke-width="2.8" />
<line x1="1451.8" y1="1959.0" x2="1501.0" y2="2017.6" stroke="#de2318" stroke-width="2.8" />
<line x1="1251.4" y1="2009.6" x2="1294.4" y2="1827.0" stroke="#de2318" stroke-width="2.8" />
<line x1="1251.4" y1="2009.6" x2="1491.3" y2="1840.4" stroke="#de2318" stroke-width="2.8" />
<line x1="1251.4" y1="2009.6" x2="1355.0" y2="1919.0" stroke="#de2318" stroke-width="2.8" />
<line x1="1251.4" y1="2009.6" x2="1373.4" y2="1973.5" stroke="#de2318" stroke-width="2.8" />
<line x1="1251.4" y1="2009.6" x2="1353.2" y2="2028.8" stroke="#de2318" stroke-width="2.8" />
<line x1="1251.4" y1="2009.6" x2="1534.6" y2="1969.5" stroke="#de2318" stroke-width="2.8" />
<line x1="1496.9" y1="1622.2" x2="1448.2" y2="1730.8" stroke="#e2c23a" stroke-width="2.8" />
<line x1="1496.9" y1="1622.2" x2="1294.4" y2="1827.0" stroke="#e2c23a" stroke-width="2.8" />
<line x1="1496.9" y1="1622.2" x2="1491.3" y2="1840.4" stroke="#e2c23a" stroke-width="2.8" />
<line x1="1607.5" y1="1695.7" x2="1448.2" y2="1730.8" stroke="#2a2ee8" stroke-width="2.8" />
<line x1="1607.5" y1="1695.7" x2="1294.4" y2="1827.0" stroke="#2a2ee8" stroke-width="2.8" />
<line x1="1607.5" y1="1695.7" x2="1491.3" y2="1840.4" stroke="#2a2ee8" stroke-width="2.8" />
<circle cx="1448.2" cy="1730.8" r="14.6" fill="#4658d8" />
<circle cx="1294.4" cy="1827.0" r="14.6" fill="#4658d8" />
<circle cx="1491.3" cy="1840.4" r="14.6" fill="#4658d8" />
<circle cx="1308.4" cy="1752.7" r="10.0" fill="#4c8ee2" />
<circle cx="1355.0" cy="1919.0" r="9.2" fill="#58a2e8" />
<circle cx="1373.4" cy="1973.5" r="8.0" fill="#58a2e8" />
<circle cx="1534.6" cy="1969.5" r="9.5" fill="#4c8ee2" />
<circle cx="1353.2" cy="2028.8" r="8.0" fill="#58a2e8" />
<circle cx="1420.3" cy="2034.7" r="6.5" fill="#58a2e8" />
<circle cx="1466.9" cy="2049.2" r="6.5" fill="#58a2e8" />
<circle cx="1501.0" cy="2017.6" r="6.5" fill="#58a2e8" />
<rect x="1301.4" y="1608.7" width="32.0" height="32.0" fill="#f0b0f8" />
<rect x="1483.2" y="1608.5" width="27.5" height="27.5" fill="#f0b0f8" />
<rect x="1126.5" y="1680.3" width="32.0" height="32.0" fill="#f0b0f8" />
<rect x="1593.7" y="1681.9" width="27.6" height="27.6" fill="#f0b0f8" />
<rect x="1107.0" y="1819.8" width="31.5" height="31.5" fill="#f0b0f8" />
<rect x="1620.9" y="1787.3" width="31.3" height="31.3" fill="#f0b0f8" />
<rect x="1140.3" y="1946.1" width="32.0" height="32.0" fill="#f0b0f8" />
<rect x="1613.8" y="1909.0" width="31.5" height="31.5" fill="#f0b0f8" />
<rect x="1426.0" y="1933.2" width="51.5" height="51.5" fill="#bb2cf6" />
<rect x="1232.4" y="1990.6" width="38.0" height="38.0" fill="#dc82f6" />
<text x="0" y="0" font-size="38.5" font-weight="bold" transform="translate(1195.5,1908) scale(1.1731,1)" stroke="#000" stroke-width="2.3" stroke-linejoin="round">Mitophagy - animal</text>
<text x="1142.5" y="1590.0" font-size="40" text-anchor="start" >Shigellosis</text>
<text x="1378.0" y="1554.7" font-size="40" text-anchor="start" >NOD-like receptor</text>
<text x="1378.0" y="1588.3" font-size="40" text-anchor="start" >signaling pathway</text>
<text x="953.0" y="1668.5" font-size="40" text-anchor="start" >Human T-cell</text>
<text x="953.0" y="1708.6" font-size="40" text-anchor="start" >leukemia</text>
<text x="953.0" y="1747.1" font-size="40" text-anchor="start" >virus 1 infection</text>
<text x="1633.0" y="1665.8" font-size="40" text-anchor="start" >Ras</text>
<text x="1633.0" y="1705.9" font-size="40" text-anchor="start" >signaling</text>
<text x="1633.0" y="1745.0" font-size="40" text-anchor="start" >pathway</text>
<text x="974.5" y="1812.8" font-size="40" text-anchor="start" >Pancreatic</text>
<text x="974.5" y="1851.8" font-size="40" text-anchor="start" >cancer</text>
<text x="1659.0" y="1815.5" font-size="40" text-anchor="start" >Measles</text>
<text x="980.0" y="1933.0" font-size="40" text-anchor="start" >Pathways</text>
<text x="969.0" y="1972.1" font-size="40" text-anchor="start" >in cancer</text>
<text x="1655.5" y="1938.4" font-size="40" text-anchor="start" >Apoptosis</text>
<text x="1102.5" y="2066.7" font-size="40" text-anchor="start" >Autophagy - animal</text>
<circle cx="1192.9" cy="2183.2" r="20.2" fill="#4a58dc" />
<text x="1225.3" y="2197.6" font-size="40" text-anchor="start" >Gene</text>
<rect x="1351.6" y="2164.5" width="37.4" height="36.8" fill="#b52cf6" />
<text x="1399.6" y="2197.6" font-size="40" text-anchor="start" >KEGG pathway</text>
</svg>
</body></html>
